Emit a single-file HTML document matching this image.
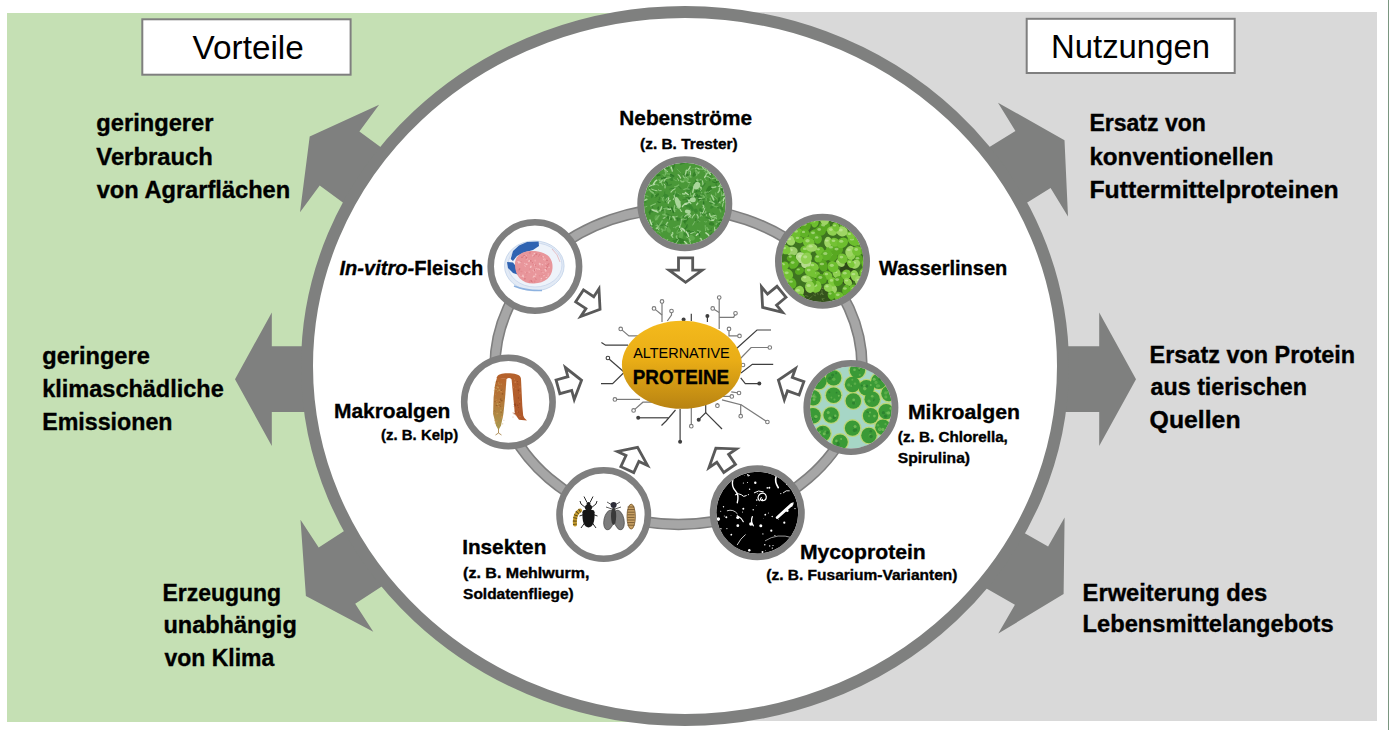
<!DOCTYPE html>
<html><head><meta charset="utf-8"><style>
html,body{margin:0;padding:0;background:#fff;width:1389px;height:730px;overflow:hidden}
svg{display:block}
text{font-family:"Liberation Sans",sans-serif;fill:#000}
text[font-weight="bold"]{stroke:#000;stroke-width:0.35px}
</style></head><body>
<svg width="1389" height="730" viewBox="0 0 1389 730">
<defs><clipPath id="c_neben"><circle cx="684.8" cy="203.7" r="41"/></clipPath><clipPath id="c_invitro"><circle cx="534.9" cy="266.5" r="41"/></clipPath><clipPath id="c_wasser"><circle cx="822.5" cy="261.2" r="41"/></clipPath><clipPath id="c_makro"><circle cx="508.4" cy="401.9" r="41"/></clipPath><clipPath id="c_mikro"><circle cx="850.9" cy="407.5" r="41"/></clipPath><clipPath id="c_insekt"><circle cx="603.7" cy="514.5" r="41"/></clipPath><clipPath id="c_myco"><circle cx="757.3" cy="512.7" r="41"/></clipPath><linearGradient id="gold" x1="0" y1="0" x2="0" y2="1"><stop offset="0" stop-color="#F4BA1C"/><stop offset="0.45" stop-color="#E9AD16"/><stop offset="1" stop-color="#B88312"/></linearGradient></defs>
<rect x="7" y="13" width="690" height="709" fill="#C5E0B4"/>
<rect x="685" y="12" width="692" height="709" fill="#D9D9D9"/>
<rect x="1388" y="0" width="1" height="730" fill="#7A9680"/>
<polygon fill="#7F807F" points="309.7,136.6 379.1,104.7 359.4,131.5 488.3,226.2 448.6,280.2 319.7,185.5 300.0,212.3"/>
<polygon fill="#7F807F" points="235.0,379.2 271.8,312.4 271.8,346.3 431.8,346.3 431.8,412.1 271.8,412.1 271.8,446.0"/>
<polygon fill="#7F807F" points="305.9,595.9 300.5,519.7 318.7,547.6 452.8,460.4 489.3,516.6 355.2,603.8 373.3,631.7"/>
<polygon fill="#7F807F" points="1064.5,140.2 1068.0,216.5 1050.6,188.1 914.3,272.0 879.2,215.0 1015.4,131.1 998.0,102.7"/>
<polygon fill="#7F807F" points="1136.0,379.2 1099.2,446.0 1099.2,412.1 939.2,412.1 939.2,346.3 1099.2,346.3 1099.2,312.4"/>
<polygon fill="#7F807F" points="1063.6,594.0 998.3,633.6 1014.9,604.7 875.9,525.3 909.2,467.2 1048.1,546.6 1064.6,517.6"/>
<ellipse cx="685" cy="366" rx="378" ry="354" fill="#FFFFFF" stroke="#7F807F" stroke-width="12"/>
<rect x="142.3" y="19.3" width="208.3" height="55.4" fill="#FFFFFF" stroke="#7F7F7F" stroke-width="2"/>
<rect x="1026.7" y="18.8" width="208" height="54.2" fill="#FFFFFF" stroke="#7F7F7F" stroke-width="2"/>
<ellipse cx="678.5" cy="366.5" rx="183.5" ry="158" fill="none" stroke="#7F7F7F" stroke-width="11.5"/>
<ellipse cx="678.5" cy="366.5" rx="183.5" ry="158" fill="none" stroke="#A6A6A6" stroke-width="8.3"/>
<path transform="translate(685.6,256.4) rotate(90.0)" d="M1.4,-7.1 L13.7,-7.1 L13.7,-16.6 L25.9,0 L13.7,16.6 L13.7,7.1 L1.4,7.1 Z" fill="#FFFFFF" stroke="#595959" stroke-width="2.8" stroke-linejoin="miter"/>
<path transform="translate(578.4,295.1) rotate(33.3)" d="M1.4,-7.1 L13.7,-7.1 L13.7,-16.6 L25.9,0 L13.7,16.6 L13.7,7.1 L1.4,7.1 Z" fill="#FFFFFF" stroke="#595959" stroke-width="2.8" stroke-linejoin="miter"/>
<path transform="translate(782.6,290.9) rotate(140.5)" d="M1.4,-7.1 L13.7,-7.1 L13.7,-16.6 L25.9,0 L13.7,16.6 L13.7,7.1 L1.4,7.1 Z" fill="#FFFFFF" stroke="#595959" stroke-width="2.8" stroke-linejoin="miter"/>
<path transform="translate(556.6,387.2) rotate(-15.5)" d="M1.4,-7.1 L13.7,-7.1 L13.7,-16.6 L25.9,0 L13.7,16.6 L13.7,7.1 L1.4,7.1 Z" fill="#FFFFFF" stroke="#595959" stroke-width="2.8" stroke-linejoin="miter"/>
<path transform="translate(802.8,388.8) rotate(199.6)" d="M1.4,-7.1 L13.7,-7.1 L13.7,-16.6 L25.9,0 L13.7,16.6 L13.7,7.1 L1.4,7.1 Z" fill="#FFFFFF" stroke="#595959" stroke-width="2.8" stroke-linejoin="miter"/>
<path transform="translate(626.7,470.9) rotate(-65.2)" d="M1.4,-7.1 L13.7,-7.1 L13.7,-16.6 L25.9,0 L13.7,16.6 L13.7,7.1 L1.4,7.1 Z" fill="#FFFFFF" stroke="#595959" stroke-width="2.8" stroke-linejoin="miter"/>
<path transform="translate(730.4,469.6) rotate(235.8)" d="M1.4,-7.1 L13.7,-7.1 L13.7,-16.6 L25.9,0 L13.7,16.6 L13.7,7.1 L1.4,7.1 Z" fill="#FFFFFF" stroke="#595959" stroke-width="2.8" stroke-linejoin="miter"/>
<circle cx="684.8" cy="203.7" r="44.2" fill="#FFFFFF"/>
<g clip-path="url(#c_neben)"><rect x="639.8" y="158.7" width="90" height="90" fill="#4A9838"/><ellipse cx="670.0" cy="174.4" rx="4.0" ry="1.1" fill="#5FAA4C" transform="rotate(24 670.0 174.4)"/><ellipse cx="673.5" cy="166.6" rx="3.5" ry="1.1" fill="#358229" transform="rotate(107 673.5 166.6)"/><ellipse cx="648.7" cy="169.3" rx="3.3" ry="2.2" fill="#3A8A30" transform="rotate(57 648.7 169.3)"/><ellipse cx="695.8" cy="210.7" rx="2.2" ry="1.9" fill="#3A8A30" transform="rotate(56 695.8 210.7)"/><ellipse cx="646.7" cy="233.8" rx="2.9" ry="1.2" fill="#3A8A30" transform="rotate(146 646.7 233.8)"/><ellipse cx="668.7" cy="230.3" rx="2.5" ry="1.9" fill="#5FAA4C" transform="rotate(48 668.7 230.3)"/><ellipse cx="674.1" cy="207.7" rx="2.2" ry="1.1" fill="#3A8A30" transform="rotate(127 674.1 207.7)"/><ellipse cx="700.0" cy="197.6" rx="2.9" ry="1.9" fill="#358229" transform="rotate(92 700.0 197.6)"/><ellipse cx="668.0" cy="228.4" rx="4.1" ry="1.4" fill="#5FAA4C" transform="rotate(76 668.0 228.4)"/><ellipse cx="686.9" cy="235.2" rx="4.2" ry="1.4" fill="#3A8A30" transform="rotate(30 686.9 235.2)"/><ellipse cx="685.8" cy="175.6" rx="3.0" ry="2.4" fill="#358229" transform="rotate(10 685.8 175.6)"/><ellipse cx="723.6" cy="168.2" rx="3.7" ry="2.2" fill="#358229" transform="rotate(87 723.6 168.2)"/><ellipse cx="701.2" cy="211.6" rx="3.7" ry="1.7" fill="#3A8A30" transform="rotate(69 701.2 211.6)"/><ellipse cx="682.6" cy="217.5" rx="2.2" ry="2.1" fill="#5FAA4C" transform="rotate(147 682.6 217.5)"/><ellipse cx="726.2" cy="230.7" rx="2.9" ry="1.6" fill="#5FAA4C" transform="rotate(88 726.2 230.7)"/><ellipse cx="644.7" cy="200.5" rx="2.5" ry="1.2" fill="#3A8A30" transform="rotate(55 644.7 200.5)"/><ellipse cx="707.3" cy="172.6" rx="2.7" ry="1.6" fill="#358229" transform="rotate(20 707.3 172.6)"/><ellipse cx="656.8" cy="195.4" rx="2.8" ry="1.2" fill="#358229" transform="rotate(140 656.8 195.4)"/><ellipse cx="666.2" cy="196.6" rx="3.1" ry="2.3" fill="#3A8A30" transform="rotate(38 666.2 196.6)"/><ellipse cx="649.8" cy="174.4" rx="4.0" ry="1.0" fill="#5FAA4C" transform="rotate(46 649.8 174.4)"/><ellipse cx="664.9" cy="162.0" rx="3.3" ry="1.6" fill="#5FAA4C" transform="rotate(81 664.9 162.0)"/><ellipse cx="722.9" cy="219.7" rx="3.5" ry="1.9" fill="#5FAA4C" transform="rotate(13 722.9 219.7)"/><ellipse cx="681.2" cy="234.9" rx="4.9" ry="2.0" fill="#5FAA4C" transform="rotate(100 681.2 234.9)"/><ellipse cx="676.2" cy="194.8" rx="3.4" ry="1.6" fill="#3A8A30" transform="rotate(17 676.2 194.8)"/><ellipse cx="725.5" cy="198.7" rx="2.3" ry="1.9" fill="#3A8A30" transform="rotate(0 725.5 198.7)"/><ellipse cx="690.4" cy="206.8" rx="4.8" ry="1.9" fill="#3A8A30" transform="rotate(53 690.4 206.8)"/><ellipse cx="694.4" cy="174.2" rx="2.8" ry="1.5" fill="#358229" transform="rotate(121 694.4 174.2)"/><ellipse cx="653.1" cy="233.0" rx="5.0" ry="1.7" fill="#358229" transform="rotate(79 653.1 233.0)"/><ellipse cx="650.0" cy="170.3" rx="3.0" ry="1.4" fill="#5FAA4C" transform="rotate(41 650.0 170.3)"/><ellipse cx="686.2" cy="178.9" rx="4.9" ry="1.5" fill="#5FAA4C" transform="rotate(139 686.2 178.9)"/><ellipse cx="719.6" cy="225.4" rx="2.9" ry="2.0" fill="#3A8A30" transform="rotate(178 719.6 225.4)"/><ellipse cx="713.8" cy="205.2" rx="4.7" ry="1.5" fill="#3A8A30" transform="rotate(136 713.8 205.2)"/><ellipse cx="688.3" cy="203.9" rx="3.9" ry="1.9" fill="#3A8A30" transform="rotate(61 688.3 203.9)"/><ellipse cx="711.5" cy="223.8" rx="2.7" ry="1.8" fill="#358229" transform="rotate(7 711.5 223.8)"/><ellipse cx="725.9" cy="228.1" rx="3.4" ry="1.3" fill="#5FAA4C" transform="rotate(88 725.9 228.1)"/><ellipse cx="680.4" cy="240.4" rx="5.0" ry="2.4" fill="#358229" transform="rotate(20 680.4 240.4)"/><ellipse cx="661.3" cy="180.8" rx="2.6" ry="1.3" fill="#5FAA4C" transform="rotate(156 661.3 180.8)"/><ellipse cx="713.4" cy="202.0" rx="4.0" ry="2.2" fill="#3A8A30" transform="rotate(169 713.4 202.0)"/><ellipse cx="652.9" cy="194.3" rx="4.1" ry="1.3" fill="#3A8A30" transform="rotate(111 652.9 194.3)"/><ellipse cx="709.1" cy="189.6" rx="4.4" ry="2.5" fill="#358229" transform="rotate(118 709.1 189.6)"/><ellipse cx="676.5" cy="241.2" rx="4.2" ry="1.3" fill="#3A8A30" transform="rotate(7 676.5 241.2)"/><ellipse cx="655.5" cy="237.7" rx="4.4" ry="1.2" fill="#5FAA4C" transform="rotate(121 655.5 237.7)"/><ellipse cx="698.0" cy="191.1" rx="3.6" ry="1.2" fill="#3A8A30" transform="rotate(166 698.0 191.1)"/><ellipse cx="651.4" cy="224.7" rx="2.4" ry="2.5" fill="#3A8A30" transform="rotate(54 651.4 224.7)"/><ellipse cx="645.2" cy="179.6" rx="3.5" ry="2.1" fill="#358229" transform="rotate(66 645.2 179.6)"/><ellipse cx="688.5" cy="231.8" rx="2.2" ry="2.1" fill="#358229" transform="rotate(169 688.5 231.8)"/><ellipse cx="691.8" cy="237.7" rx="3.3" ry="2.4" fill="#5FAA4C" transform="rotate(33 691.8 237.7)"/><ellipse cx="687.5" cy="205.7" rx="2.1" ry="1.7" fill="#3A8A30" transform="rotate(155 687.5 205.7)"/><ellipse cx="643.1" cy="228.8" rx="2.5" ry="1.7" fill="#5FAA4C" transform="rotate(30 643.1 228.8)"/><ellipse cx="689.5" cy="189.1" rx="3.6" ry="1.8" fill="#3A8A30" transform="rotate(143 689.5 189.1)"/><ellipse cx="647.6" cy="177.8" rx="2.1" ry="1.1" fill="#358229" transform="rotate(143 647.6 177.8)"/><ellipse cx="645.1" cy="236.8" rx="2.2" ry="1.5" fill="#5FAA4C" transform="rotate(155 645.1 236.8)"/><ellipse cx="685.8" cy="219.9" rx="3.4" ry="1.8" fill="#358229" transform="rotate(129 685.8 219.9)"/><ellipse cx="721.9" cy="220.4" rx="4.6" ry="2.4" fill="#358229" transform="rotate(143 721.9 220.4)"/><ellipse cx="717.8" cy="178.7" rx="3.3" ry="1.6" fill="#358229" transform="rotate(113 717.8 178.7)"/><ellipse cx="669.3" cy="218.1" rx="3.3" ry="1.3" fill="#358229" transform="rotate(31 669.3 218.1)"/><ellipse cx="718.2" cy="174.7" rx="4.1" ry="2.0" fill="#3A8A30" transform="rotate(64 718.2 174.7)"/><ellipse cx="717.0" cy="243.0" rx="2.7" ry="2.4" fill="#358229" transform="rotate(124 717.0 243.0)"/><ellipse cx="656.5" cy="217.8" rx="2.7" ry="2.1" fill="#5FAA4C" transform="rotate(103 656.5 217.8)"/><ellipse cx="671.3" cy="178.1" rx="3.0" ry="2.1" fill="#3A8A30" transform="rotate(86 671.3 178.1)"/><path d="M689.3,198.7 Q691.0,197.5 692.7,198.9" stroke="#3A8630" stroke-width="1.6" fill="none" stroke-linecap="round"/><path d="M709.0,243.3 Q711.7,242.9 711.9,244.3" stroke="#86C474" stroke-width="1.4" fill="none" stroke-linecap="round"/><path d="M711.7,233.1 Q709.1,236.8 708.6,238.0" stroke="#2F7A28" stroke-width="1.2" fill="none" stroke-linecap="round"/><path d="M701.6,169.2 Q705.2,168.9 706.3,170.1" stroke="#2F7A28" stroke-width="0.6" fill="none" stroke-linecap="round"/><path d="M650.2,183.6 Q650.8,184.8 649.3,186.3" stroke="#3A8630" stroke-width="0.9" fill="none" stroke-linecap="round"/><path d="M689.3,239.5 Q691.4,241.9 690.9,241.4" stroke="#B8DDAA" stroke-width="0.9" fill="none" stroke-linecap="round"/><path d="M658.0,240.0 Q656.6,241.9 656.4,243.8" stroke="#B8DDAA" stroke-width="0.8" fill="none" stroke-linecap="round"/><path d="M671.9,163.2 Q672.7,163.2 673.4,164.7" stroke="#B8DDAA" stroke-width="1.0" fill="none" stroke-linecap="round"/><path d="M698.1,216.3 Q698.5,217.6 696.1,220.0" stroke="#2F7A28" stroke-width="0.8" fill="none" stroke-linecap="round"/><path d="M662.1,178.4 Q659.5,178.8 657.5,180.2" stroke="#74B863" stroke-width="0.7" fill="none" stroke-linecap="round"/><path d="M653.7,167.6 Q651.3,169.2 651.6,169.8" stroke="#74B863" stroke-width="1.0" fill="none" stroke-linecap="round"/><path d="M685.3,243.3 Q684.4,244.5 683.8,247.8" stroke="#86C474" stroke-width="1.0" fill="none" stroke-linecap="round"/><path d="M664.9,242.5 Q661.4,243.8 660.7,242.8" stroke="#B8DDAA" stroke-width="0.8" fill="none" stroke-linecap="round"/><path d="M658.2,189.9 Q658.9,191.1 661.2,190.7" stroke="#B8DDAA" stroke-width="0.7" fill="none" stroke-linecap="round"/><path d="M711.4,173.8 Q710.4,174.7 710.5,177.2" stroke="#3A8630" stroke-width="1.2" fill="none" stroke-linecap="round"/><path d="M687.3,224.7 Q686.9,227.5 684.9,229.0" stroke="#2F7A28" stroke-width="1.1" fill="none" stroke-linecap="round"/><path d="M666.7,213.7 Q669.8,215.8 671.4,216.0" stroke="#2F7A28" stroke-width="0.7" fill="none" stroke-linecap="round"/><path d="M686.8,204.1 Q683.3,204.0 682.3,206.7" stroke="#B8DDAA" stroke-width="1.2" fill="none" stroke-linecap="round"/><path d="M723.4,193.3 Q723.9,195.0 723.7,195.5" stroke="#86C474" stroke-width="1.1" fill="none" stroke-linecap="round"/><path d="M643.1,228.7 Q642.1,228.8 640.3,231.6" stroke="#9FD28F" stroke-width="1.3" fill="none" stroke-linecap="round"/><path d="M664.0,168.0 Q664.8,170.2 667.3,171.6" stroke="#B8DDAA" stroke-width="1.1" fill="none" stroke-linecap="round"/><path d="M713.8,168.1 Q712.7,169.0 710.8,169.0" stroke="#86C474" stroke-width="0.7" fill="none" stroke-linecap="round"/><path d="M655.2,183.0 Q652.6,182.9 653.0,185.4" stroke="#74B863" stroke-width="0.9" fill="none" stroke-linecap="round"/><path d="M699.2,219.8 Q698.3,221.1 697.6,222.5" stroke="#3A8630" stroke-width="0.7" fill="none" stroke-linecap="round"/><path d="M717.9,178.4 Q714.4,177.4 712.1,178.8" stroke="#86C474" stroke-width="1.1" fill="none" stroke-linecap="round"/><path d="M726.3,245.2 Q726.1,246.6 728.3,250.5" stroke="#B8DDAA" stroke-width="1.3" fill="none" stroke-linecap="round"/><path d="M664.8,191.9 Q665.2,194.7 663.3,196.2" stroke="#3A8630" stroke-width="0.8" fill="none" stroke-linecap="round"/><path d="M718.2,202.5 Q719.8,202.3 720.2,202.7" stroke="#A5D596" stroke-width="1.3" fill="none" stroke-linecap="round"/><path d="M677.8,193.3 Q680.1,194.9 680.8,194.5" stroke="#6CB25A" stroke-width="0.7" fill="none" stroke-linecap="round"/><path d="M720.6,221.6 Q717.8,221.7 717.6,222.6" stroke="#6CB25A" stroke-width="1.5" fill="none" stroke-linecap="round"/><path d="M649.2,239.4 Q646.1,242.3 645.3,243.2" stroke="#3A8630" stroke-width="0.9" fill="none" stroke-linecap="round"/><path d="M721.4,182.6 Q723.6,185.0 724.1,185.6" stroke="#B8DDAA" stroke-width="1.0" fill="none" stroke-linecap="round"/><path d="M645.2,225.7 Q646.7,226.9 646.9,230.9" stroke="#B8DDAA" stroke-width="1.3" fill="none" stroke-linecap="round"/><path d="M680.7,224.9 Q681.2,226.5 679.3,227.8" stroke="#86C474" stroke-width="0.8" fill="none" stroke-linecap="round"/><path d="M677.6,185.4 Q679.1,186.4 681.1,188.9" stroke="#3A8630" stroke-width="1.1" fill="none" stroke-linecap="round"/><path d="M699.0,171.8 Q698.6,172.7 698.0,173.8" stroke="#A5D596" stroke-width="0.9" fill="none" stroke-linecap="round"/><path d="M706.6,197.6 Q705.9,197.8 706.1,200.5" stroke="#74B863" stroke-width="0.8" fill="none" stroke-linecap="round"/><path d="M664.5,209.5 Q661.8,211.2 659.8,211.3" stroke="#2F7A28" stroke-width="0.8" fill="none" stroke-linecap="round"/><path d="M665.5,224.9 Q664.4,227.0 665.5,229.2" stroke="#6CB25A" stroke-width="1.2" fill="none" stroke-linecap="round"/><path d="M715.3,179.8 Q716.7,180.8 717.3,182.1" stroke="#2F7A28" stroke-width="0.9" fill="none" stroke-linecap="round"/><path d="M711.2,243.0 Q714.3,243.7 714.6,244.5" stroke="#A5D596" stroke-width="0.7" fill="none" stroke-linecap="round"/><path d="M720.9,239.7 Q720.0,240.4 720.6,243.5" stroke="#A5D596" stroke-width="0.8" fill="none" stroke-linecap="round"/><path d="M686.7,219.0 Q683.0,220.3 681.9,219.9" stroke="#A5D596" stroke-width="0.6" fill="none" stroke-linecap="round"/><path d="M653.4,209.5 Q656.1,209.9 658.2,210.1" stroke="#74B863" stroke-width="1.0" fill="none" stroke-linecap="round"/><path d="M707.0,170.1 Q708.3,171.6 710.4,174.7" stroke="#B8DDAA" stroke-width="1.2" fill="none" stroke-linecap="round"/><path d="M643.7,187.0 Q644.0,189.1 644.4,192.8" stroke="#B8DDAA" stroke-width="0.8" fill="none" stroke-linecap="round"/><path d="M723.5,220.9 Q725.2,222.2 724.7,222.6" stroke="#A5D596" stroke-width="0.7" fill="none" stroke-linecap="round"/><path d="M661.9,197.3 Q663.4,198.8 663.5,201.0" stroke="#6CB25A" stroke-width="1.0" fill="none" stroke-linecap="round"/><path d="M643.4,186.2 Q643.8,186.2 641.4,187.3" stroke="#A5D596" stroke-width="1.4" fill="none" stroke-linecap="round"/><path d="M662.2,180.3 Q661.4,182.6 659.9,182.5" stroke="#A5D596" stroke-width="1.1" fill="none" stroke-linecap="round"/><path d="M719.3,166.4 Q717.6,170.6 717.6,171.9" stroke="#86C474" stroke-width="0.7" fill="none" stroke-linecap="round"/><path d="M647.2,166.8 Q648.8,170.9 649.0,172.0" stroke="#6CB25A" stroke-width="1.5" fill="none" stroke-linecap="round"/><path d="M670.5,177.3 Q667.4,178.5 665.6,178.3" stroke="#86C474" stroke-width="1.4" fill="none" stroke-linecap="round"/><path d="M725.5,198.9 Q726.2,200.6 727.7,199.6" stroke="#9FD28F" stroke-width="0.7" fill="none" stroke-linecap="round"/><path d="M723.8,179.1 Q723.7,182.1 726.1,183.9" stroke="#2F7A28" stroke-width="0.8" fill="none" stroke-linecap="round"/><path d="M688.3,199.2 Q688.2,201.0 690.9,203.4" stroke="#A5D596" stroke-width="1.4" fill="none" stroke-linecap="round"/><path d="M707.2,165.1 Q707.6,166.0 709.4,165.4" stroke="#86C474" stroke-width="1.5" fill="none" stroke-linecap="round"/><path d="M671.3,184.6 Q669.8,185.4 666.9,185.2" stroke="#3A8630" stroke-width="1.5" fill="none" stroke-linecap="round"/><path d="M667.8,222.3 Q665.6,224.0 666.2,227.3" stroke="#9FD28F" stroke-width="1.1" fill="none" stroke-linecap="round"/><path d="M723.2,241.8 Q724.6,242.1 724.2,244.6" stroke="#2F7A28" stroke-width="1.1" fill="none" stroke-linecap="round"/><path d="M643.5,239.9 Q645.2,241.3 646.3,243.8" stroke="#74B863" stroke-width="0.9" fill="none" stroke-linecap="round"/><path d="M673.2,227.4 Q673.8,226.4 675.9,228.1" stroke="#74B863" stroke-width="0.6" fill="none" stroke-linecap="round"/><path d="M689.2,189.1 Q685.8,188.0 683.7,189.4" stroke="#9FD28F" stroke-width="0.7" fill="none" stroke-linecap="round"/><path d="M684.7,221.3 Q684.8,223.9 685.2,224.2" stroke="#2F7A28" stroke-width="0.8" fill="none" stroke-linecap="round"/><path d="M688.0,226.7 Q685.6,228.7 684.3,230.2" stroke="#3A8630" stroke-width="1.0" fill="none" stroke-linecap="round"/><path d="M704.8,178.4 Q705.2,180.7 706.9,180.5" stroke="#74B863" stroke-width="0.8" fill="none" stroke-linecap="round"/><path d="M648.2,182.8 Q650.2,185.7 651.2,185.7" stroke="#9FD28F" stroke-width="0.7" fill="none" stroke-linecap="round"/><path d="M682.7,230.5 Q681.3,231.1 677.7,233.2" stroke="#86C474" stroke-width="0.7" fill="none" stroke-linecap="round"/><path d="M693.2,231.2 Q694.0,231.2 695.1,232.6" stroke="#74B863" stroke-width="1.4" fill="none" stroke-linecap="round"/><path d="M722.2,170.6 Q720.2,172.2 720.9,174.9" stroke="#B8DDAA" stroke-width="0.6" fill="none" stroke-linecap="round"/><path d="M726.8,164.9 Q725.9,166.7 723.0,169.1" stroke="#86C474" stroke-width="1.0" fill="none" stroke-linecap="round"/><path d="M695.0,168.2 Q695.6,167.2 698.9,168.6" stroke="#A5D596" stroke-width="1.0" fill="none" stroke-linecap="round"/><path d="M689.0,215.4 Q690.0,215.1 691.6,216.1" stroke="#3A8630" stroke-width="0.9" fill="none" stroke-linecap="round"/><path d="M722.9,187.9 Q721.1,190.4 722.2,191.3" stroke="#2F7A28" stroke-width="1.4" fill="none" stroke-linecap="round"/><path d="M696.9,194.5 Q699.0,197.0 698.6,200.0" stroke="#2F7A28" stroke-width="1.4" fill="none" stroke-linecap="round"/><path d="M676.9,235.9 Q675.7,236.1 677.2,238.5" stroke="#86C474" stroke-width="1.4" fill="none" stroke-linecap="round"/><path d="M676.1,209.8 Q672.7,209.7 671.3,210.9" stroke="#74B863" stroke-width="1.1" fill="none" stroke-linecap="round"/><path d="M720.5,170.8 Q720.0,174.5 720.7,176.1" stroke="#B8DDAA" stroke-width="0.6" fill="none" stroke-linecap="round"/><path d="M719.5,188.1 Q719.9,190.6 718.0,192.4" stroke="#9FD28F" stroke-width="1.4" fill="none" stroke-linecap="round"/><path d="M656.3,227.7 Q658.6,227.9 659.0,230.0" stroke="#B8DDAA" stroke-width="0.8" fill="none" stroke-linecap="round"/><path d="M676.4,205.2 Q678.2,207.3 677.3,207.5" stroke="#B8DDAA" stroke-width="0.8" fill="none" stroke-linecap="round"/><path d="M717.0,232.5 Q714.7,234.8 714.6,236.5" stroke="#6CB25A" stroke-width="1.2" fill="none" stroke-linecap="round"/><path d="M695.5,187.4 Q695.7,189.1 696.5,191.6" stroke="#2F7A28" stroke-width="1.1" fill="none" stroke-linecap="round"/><path d="M657.8,162.0 Q656.7,162.9 654.0,162.2" stroke="#A5D596" stroke-width="1.1" fill="none" stroke-linecap="round"/><path d="M657.9,201.5 Q658.7,202.8 660.3,202.3" stroke="#2F7A28" stroke-width="1.1" fill="none" stroke-linecap="round"/><path d="M698.0,165.1 Q701.4,166.3 703.2,167.4" stroke="#6CB25A" stroke-width="0.7" fill="none" stroke-linecap="round"/><path d="M685.1,193.4 Q685.4,194.3 682.6,193.8" stroke="#9FD28F" stroke-width="1.4" fill="none" stroke-linecap="round"/><path d="M659.1,244.2 Q659.7,247.7 659.2,250.0" stroke="#74B863" stroke-width="0.8" fill="none" stroke-linecap="round"/><path d="M712.8,213.0 Q715.1,214.0 715.1,215.3" stroke="#3A8630" stroke-width="0.9" fill="none" stroke-linecap="round"/><path d="M723.8,202.0 Q722.6,202.8 722.5,206.3" stroke="#B8DDAA" stroke-width="0.8" fill="none" stroke-linecap="round"/><path d="M656.3,240.4 Q655.7,242.0 653.4,245.1" stroke="#74B863" stroke-width="1.4" fill="none" stroke-linecap="round"/><path d="M646.9,233.8 Q644.2,234.1 643.1,234.2" stroke="#9FD28F" stroke-width="1.5" fill="none" stroke-linecap="round"/><path d="M704.8,192.9 Q705.0,195.3 706.1,196.1" stroke="#74B863" stroke-width="1.0" fill="none" stroke-linecap="round"/><path d="M657.6,224.2 Q659.7,226.0 662.9,225.0" stroke="#3A8630" stroke-width="1.5" fill="none" stroke-linecap="round"/><path d="M720.8,236.9 Q718.1,239.1 717.5,240.7" stroke="#B8DDAA" stroke-width="1.0" fill="none" stroke-linecap="round"/><path d="M685.9,236.9 Q685.8,236.0 688.5,238.1" stroke="#86C474" stroke-width="1.0" fill="none" stroke-linecap="round"/><path d="M651.7,191.7 Q652.5,193.5 655.0,194.5" stroke="#74B863" stroke-width="1.1" fill="none" stroke-linecap="round"/><path d="M654.1,240.4 Q653.7,240.2 656.0,242.2" stroke="#9FD28F" stroke-width="1.3" fill="none" stroke-linecap="round"/><path d="M665.5,229.9 Q664.6,230.2 663.2,230.1" stroke="#6CB25A" stroke-width="1.2" fill="none" stroke-linecap="round"/><path d="M686.3,203.1 Q687.2,203.3 688.0,204.1" stroke="#86C474" stroke-width="0.8" fill="none" stroke-linecap="round"/><path d="M647.7,227.1 Q648.7,226.3 651.9,227.3" stroke="#B8DDAA" stroke-width="1.2" fill="none" stroke-linecap="round"/><path d="M685.4,215.6 Q683.0,216.7 683.1,217.1" stroke="#3A8630" stroke-width="1.6" fill="none" stroke-linecap="round"/><path d="M703.6,201.8 Q704.2,203.5 703.2,205.3" stroke="#2F7A28" stroke-width="1.3" fill="none" stroke-linecap="round"/><path d="M680.8,180.7 Q681.1,182.3 683.6,181.6" stroke="#86C474" stroke-width="1.5" fill="none" stroke-linecap="round"/><path d="M722.0,183.8 Q724.8,185.4 726.5,184.6" stroke="#2F7A28" stroke-width="1.6" fill="none" stroke-linecap="round"/><path d="M667.6,239.7 Q665.5,241.3 665.4,240.5" stroke="#86C474" stroke-width="1.4" fill="none" stroke-linecap="round"/><path d="M659.8,175.1 Q658.0,174.7 657.2,175.8" stroke="#2F7A28" stroke-width="1.5" fill="none" stroke-linecap="round"/><path d="M695.8,219.9 Q694.2,222.6 692.8,225.0" stroke="#A5D596" stroke-width="0.6" fill="none" stroke-linecap="round"/><path d="M645.0,242.0 Q646.8,244.1 649.1,245.7" stroke="#B8DDAA" stroke-width="1.2" fill="none" stroke-linecap="round"/><path d="M657.2,164.5 Q658.9,164.2 661.4,166.0" stroke="#74B863" stroke-width="0.6" fill="none" stroke-linecap="round"/><path d="M646.3,219.9 Q644.0,222.3 644.3,224.3" stroke="#86C474" stroke-width="1.0" fill="none" stroke-linecap="round"/><path d="M711.5,230.5 Q709.2,230.0 709.3,231.3" stroke="#2F7A28" stroke-width="0.7" fill="none" stroke-linecap="round"/><path d="M645.7,232.9 Q643.7,233.1 641.9,235.4" stroke="#3A8630" stroke-width="1.4" fill="none" stroke-linecap="round"/><path d="M697.1,186.4 Q697.1,187.1 698.6,189.1" stroke="#6CB25A" stroke-width="1.3" fill="none" stroke-linecap="round"/><path d="M673.7,188.6 Q672.1,187.5 669.7,189.1" stroke="#3A8630" stroke-width="1.0" fill="none" stroke-linecap="round"/><path d="M679.5,226.6 Q681.2,229.8 681.7,230.9" stroke="#B8DDAA" stroke-width="1.2" fill="none" stroke-linecap="round"/><path d="M666.9,198.3 Q665.3,199.9 666.7,201.5" stroke="#86C474" stroke-width="1.1" fill="none" stroke-linecap="round"/><path d="M709.7,177.2 Q710.0,177.9 709.8,180.6" stroke="#3A8630" stroke-width="1.4" fill="none" stroke-linecap="round"/><path d="M721.6,181.1 Q724.1,184.1 726.6,184.0" stroke="#9FD28F" stroke-width="1.2" fill="none" stroke-linecap="round"/><path d="M651.6,189.1 Q654.1,190.4 657.0,190.8" stroke="#9FD28F" stroke-width="1.0" fill="none" stroke-linecap="round"/><path d="M668.3,197.7 Q669.4,197.9 667.9,200.3" stroke="#B8DDAA" stroke-width="1.2" fill="none" stroke-linecap="round"/><path d="M700.7,212.5 Q704.0,212.6 705.0,213.0" stroke="#74B863" stroke-width="1.2" fill="none" stroke-linecap="round"/><path d="M670.0,200.6 Q668.0,201.7 668.3,203.1" stroke="#B8DDAA" stroke-width="1.5" fill="none" stroke-linecap="round"/><path d="M662.8,177.8 Q664.9,181.2 665.6,181.7" stroke="#74B863" stroke-width="1.3" fill="none" stroke-linecap="round"/><path d="M693.4,191.0 Q697.0,193.6 697.7,194.9" stroke="#3A8630" stroke-width="0.7" fill="none" stroke-linecap="round"/><path d="M723.6,170.2 Q725.4,172.8 725.8,175.8" stroke="#3A8630" stroke-width="0.8" fill="none" stroke-linecap="round"/><path d="M696.4,170.7 Q696.3,172.8 699.2,172.8" stroke="#86C474" stroke-width="1.0" fill="none" stroke-linecap="round"/><path d="M661.5,244.1 Q662.4,244.6 662.7,245.8" stroke="#3A8630" stroke-width="1.3" fill="none" stroke-linecap="round"/><path d="M719.1,197.8 Q719.5,200.8 717.9,202.7" stroke="#2F7A28" stroke-width="1.3" fill="none" stroke-linecap="round"/><path d="M716.5,215.6 Q716.6,216.9 715.8,218.4" stroke="#74B863" stroke-width="0.9" fill="none" stroke-linecap="round"/><path d="M695.6,169.9 Q695.5,172.2 696.9,174.9" stroke="#74B863" stroke-width="1.1" fill="none" stroke-linecap="round"/><path d="M695.0,196.1 Q694.7,198.0 692.0,201.0" stroke="#74B863" stroke-width="0.6" fill="none" stroke-linecap="round"/><path d="M712.7,238.0 Q713.1,239.3 715.5,239.0" stroke="#B8DDAA" stroke-width="1.5" fill="none" stroke-linecap="round"/><path d="M686.4,170.2 Q686.0,172.6 685.4,174.2" stroke="#A5D596" stroke-width="1.4" fill="none" stroke-linecap="round"/><path d="M686.6,196.2 Q684.9,197.2 683.8,196.6" stroke="#74B863" stroke-width="0.7" fill="none" stroke-linecap="round"/><path d="M725.5,191.6 Q725.7,190.6 728.5,192.1" stroke="#2F7A28" stroke-width="1.5" fill="none" stroke-linecap="round"/><path d="M695.6,218.4 Q696.0,220.9 695.0,220.8" stroke="#3A8630" stroke-width="1.1" fill="none" stroke-linecap="round"/><path d="M661.2,229.0 Q663.0,229.1 662.1,231.7" stroke="#74B863" stroke-width="1.4" fill="none" stroke-linecap="round"/><path d="M659.0,215.6 Q656.9,218.1 655.7,219.7" stroke="#74B863" stroke-width="1.4" fill="none" stroke-linecap="round"/><path d="M711.4,201.0 Q713.5,202.6 713.9,204.4" stroke="#74B863" stroke-width="1.4" fill="none" stroke-linecap="round"/><path d="M662.2,220.9 Q660.5,224.2 658.9,225.8" stroke="#74B863" stroke-width="1.4" fill="none" stroke-linecap="round"/><path d="M672.9,216.7 Q674.4,217.9 675.0,220.0" stroke="#9FD28F" stroke-width="1.5" fill="none" stroke-linecap="round"/><path d="M714.6,166.5 Q712.3,167.5 709.8,169.4" stroke="#74B863" stroke-width="1.2" fill="none" stroke-linecap="round"/><path d="M698.0,179.3 Q699.8,180.7 701.1,180.0" stroke="#9FD28F" stroke-width="0.8" fill="none" stroke-linecap="round"/><path d="M680.8,227.6 Q682.5,229.3 683.6,229.8" stroke="#74B863" stroke-width="1.6" fill="none" stroke-linecap="round"/><path d="M650.4,237.4 Q649.1,240.3 649.7,241.9" stroke="#3A8630" stroke-width="1.1" fill="none" stroke-linecap="round"/><path d="M705.1,198.5 Q702.9,200.3 701.2,200.1" stroke="#3A8630" stroke-width="1.1" fill="none" stroke-linecap="round"/><path d="M689.6,202.4 Q687.3,203.2 685.0,203.8" stroke="#B8DDAA" stroke-width="1.5" fill="none" stroke-linecap="round"/><path d="M643.4,232.3 Q644.6,234.1 643.8,236.6" stroke="#3A8630" stroke-width="1.0" fill="none" stroke-linecap="round"/><path d="M723.5,168.0 Q721.1,168.7 721.6,172.2" stroke="#86C474" stroke-width="1.3" fill="none" stroke-linecap="round"/><path d="M726.7,229.6 Q727.2,230.8 730.5,230.8" stroke="#74B863" stroke-width="1.2" fill="none" stroke-linecap="round"/><path d="M671.2,234.1 Q671.4,235.4 672.8,237.6" stroke="#B8DDAA" stroke-width="0.9" fill="none" stroke-linecap="round"/><path d="M647.2,186.0 Q648.1,187.1 649.0,189.6" stroke="#6CB25A" stroke-width="1.1" fill="none" stroke-linecap="round"/><path d="M724.7,216.7 Q724.0,216.6 722.1,218.7" stroke="#6CB25A" stroke-width="1.6" fill="none" stroke-linecap="round"/><path d="M650.2,245.4 Q651.0,246.1 651.5,249.4" stroke="#2F7A28" stroke-width="0.9" fill="none" stroke-linecap="round"/><path d="M643.3,177.7 Q642.0,179.4 639.0,178.7" stroke="#86C474" stroke-width="1.2" fill="none" stroke-linecap="round"/><path d="M694.6,214.4 Q692.5,216.6 692.1,217.9" stroke="#9FD28F" stroke-width="1.1" fill="none" stroke-linecap="round"/><path d="M706.9,170.2 Q709.0,171.3 708.7,171.4" stroke="#9FD28F" stroke-width="1.0" fill="none" stroke-linecap="round"/><path d="M711.9,227.8 Q710.7,227.9 711.3,230.7" stroke="#3A8630" stroke-width="0.6" fill="none" stroke-linecap="round"/><path d="M690.4,210.3 Q689.4,211.6 686.5,211.3" stroke="#86C474" stroke-width="1.0" fill="none" stroke-linecap="round"/><path d="M701.2,195.7 Q703.5,195.9 705.9,196.7" stroke="#74B863" stroke-width="0.7" fill="none" stroke-linecap="round"/><path d="M696.9,179.5 Q696.4,180.5 698.8,180.5" stroke="#86C474" stroke-width="1.6" fill="none" stroke-linecap="round"/><path d="M714.9,180.0 Q717.4,180.0 718.5,181.5" stroke="#3A8630" stroke-width="1.3" fill="none" stroke-linecap="round"/><path d="M658.5,165.9 Q657.4,166.2 654.9,169.1" stroke="#74B863" stroke-width="1.2" fill="none" stroke-linecap="round"/><path d="M702.4,200.4 Q701.6,199.2 699.4,201.0" stroke="#86C474" stroke-width="0.6" fill="none" stroke-linecap="round"/><path d="M697.5,230.4 Q700.4,231.8 700.6,231.2" stroke="#74B863" stroke-width="1.2" fill="none" stroke-linecap="round"/><path d="M669.4,241.4 Q667.0,243.8 666.8,244.3" stroke="#74B863" stroke-width="1.0" fill="none" stroke-linecap="round"/><path d="M697.0,214.6 Q698.8,217.2 697.9,218.0" stroke="#A5D596" stroke-width="1.2" fill="none" stroke-linecap="round"/><path d="M667.4,166.8 Q666.1,167.7 662.6,167.2" stroke="#6CB25A" stroke-width="0.6" fill="none" stroke-linecap="round"/><path d="M655.5,231.6 Q654.3,235.0 653.9,237.3" stroke="#B8DDAA" stroke-width="1.2" fill="none" stroke-linecap="round"/><path d="M718.1,229.5 Q718.0,229.3 719.3,231.1" stroke="#3A8630" stroke-width="1.5" fill="none" stroke-linecap="round"/><path d="M706.9,227.5 Q707.0,229.5 708.5,229.5" stroke="#74B863" stroke-width="1.4" fill="none" stroke-linecap="round"/><path d="M700.3,238.5 Q701.7,238.6 701.4,240.5" stroke="#A5D596" stroke-width="1.4" fill="none" stroke-linecap="round"/><path d="M721.1,181.4 Q720.9,184.9 719.5,185.8" stroke="#A5D596" stroke-width="1.2" fill="none" stroke-linecap="round"/><path d="M643.6,194.0 Q644.1,195.3 643.1,198.1" stroke="#6CB25A" stroke-width="1.2" fill="none" stroke-linecap="round"/><path d="M718.1,236.0 Q717.1,237.1 717.9,239.9" stroke="#B8DDAA" stroke-width="0.8" fill="none" stroke-linecap="round"/><path d="M701.7,192.2 Q700.6,195.2 701.0,195.7" stroke="#74B863" stroke-width="1.1" fill="none" stroke-linecap="round"/><path d="M715.6,192.9 Q716.0,193.6 715.8,195.2" stroke="#6CB25A" stroke-width="1.1" fill="none" stroke-linecap="round"/><path d="M644.5,164.5 Q642.1,163.7 639.1,164.7" stroke="#A5D596" stroke-width="1.5" fill="none" stroke-linecap="round"/><path d="M666.3,169.9 Q665.9,170.6 667.0,174.2" stroke="#74B863" stroke-width="0.8" fill="none" stroke-linecap="round"/><path d="M658.0,168.7 Q660.0,170.1 662.2,169.4" stroke="#A5D596" stroke-width="1.5" fill="none" stroke-linecap="round"/><path d="M715.3,215.4 Q712.2,216.2 710.6,216.6" stroke="#9FD28F" stroke-width="1.2" fill="none" stroke-linecap="round"/><path d="M723.1,218.0 Q723.4,219.0 724.4,221.5" stroke="#74B863" stroke-width="1.3" fill="none" stroke-linecap="round"/><path d="M657.3,240.8 Q657.2,239.7 655.1,241.2" stroke="#86C474" stroke-width="1.4" fill="none" stroke-linecap="round"/><path d="M702.4,216.0 Q700.7,214.6 700.2,216.1" stroke="#74B863" stroke-width="0.8" fill="none" stroke-linecap="round"/><path d="M705.7,211.2 Q705.5,212.8 706.5,215.8" stroke="#A5D596" stroke-width="0.7" fill="none" stroke-linecap="round"/><path d="M683.2,175.9 Q684.1,178.0 685.1,177.6" stroke="#86C474" stroke-width="1.4" fill="none" stroke-linecap="round"/><path d="M656.0,231.7 Q659.3,231.1 660.3,232.7" stroke="#6CB25A" stroke-width="1.0" fill="none" stroke-linecap="round"/><path d="M650.9,239.7 Q650.4,240.3 647.0,241.9" stroke="#A5D596" stroke-width="0.8" fill="none" stroke-linecap="round"/><path d="M652.5,192.4 Q654.4,194.7 655.0,196.7" stroke="#74B863" stroke-width="0.7" fill="none" stroke-linecap="round"/><path d="M715.9,184.1 Q716.5,184.7 716.7,186.6" stroke="#3A8630" stroke-width="1.4" fill="none" stroke-linecap="round"/><path d="M664.7,170.9 Q666.4,171.5 665.2,174.8" stroke="#74B863" stroke-width="1.5" fill="none" stroke-linecap="round"/><path d="M698.9,179.4 Q699.8,182.4 699.2,182.6" stroke="#3A8630" stroke-width="1.0" fill="none" stroke-linecap="round"/><path d="M664.8,181.7 Q667.3,181.6 667.4,184.2" stroke="#2F7A28" stroke-width="1.3" fill="none" stroke-linecap="round"/><path d="M667.5,243.9 Q670.1,243.9 672.7,244.2" stroke="#6CB25A" stroke-width="1.4" fill="none" stroke-linecap="round"/><path d="M722.1,185.8 Q721.7,186.9 723.0,187.7" stroke="#2F7A28" stroke-width="0.7" fill="none" stroke-linecap="round"/><path d="M657.9,226.4 Q658.1,228.7 656.2,228.6" stroke="#9FD28F" stroke-width="1.3" fill="none" stroke-linecap="round"/><path d="M706.7,176.4 Q709.1,176.5 711.0,178.4" stroke="#B8DDAA" stroke-width="0.7" fill="none" stroke-linecap="round"/><path d="M704.3,196.0 Q703.1,197.9 702.9,197.7" stroke="#6CB25A" stroke-width="1.5" fill="none" stroke-linecap="round"/><path d="M684.2,163.0 Q681.6,163.7 680.5,164.1" stroke="#3A8630" stroke-width="1.6" fill="none" stroke-linecap="round"/><path d="M645.9,220.7 Q645.3,223.2 644.6,226.0" stroke="#6CB25A" stroke-width="1.1" fill="none" stroke-linecap="round"/><path d="M652.9,221.7 Q651.5,224.3 648.4,224.7" stroke="#6CB25A" stroke-width="1.2" fill="none" stroke-linecap="round"/><path d="M718.2,186.2 Q720.6,187.1 722.9,187.8" stroke="#A5D596" stroke-width="1.1" fill="none" stroke-linecap="round"/><path d="M644.5,243.0 Q645.0,244.0 646.6,244.7" stroke="#9FD28F" stroke-width="1.6" fill="none" stroke-linecap="round"/><path d="M644.4,239.5 Q643.5,241.2 642.4,241.7" stroke="#A5D596" stroke-width="0.7" fill="none" stroke-linecap="round"/><path d="M715.8,221.9 Q717.3,222.9 718.3,222.3" stroke="#A5D596" stroke-width="0.7" fill="none" stroke-linecap="round"/><path d="M653.0,236.0 Q651.8,237.7 652.6,238.9" stroke="#B8DDAA" stroke-width="1.3" fill="none" stroke-linecap="round"/><path d="M656.6,231.1 Q655.2,231.7 653.1,231.8" stroke="#2F7A28" stroke-width="0.6" fill="none" stroke-linecap="round"/><path d="M724.3,166.1 Q725.7,168.7 725.8,169.3" stroke="#6CB25A" stroke-width="1.2" fill="none" stroke-linecap="round"/><path d="M725.6,188.6 Q726.3,192.0 726.9,192.7" stroke="#6CB25A" stroke-width="1.5" fill="none" stroke-linecap="round"/><path d="M663.7,197.2 Q661.7,198.5 662.3,200.3" stroke="#74B863" stroke-width="1.1" fill="none" stroke-linecap="round"/><path d="M644.5,173.4 Q642.4,174.6 639.5,173.9" stroke="#A5D596" stroke-width="1.5" fill="none" stroke-linecap="round"/><path d="M717.1,164.6 Q716.8,166.9 715.8,167.4" stroke="#3A8630" stroke-width="0.6" fill="none" stroke-linecap="round"/><path d="M651.2,171.9 Q652.1,171.4 654.2,172.0" stroke="#86C474" stroke-width="1.2" fill="none" stroke-linecap="round"/><path d="M652.9,211.6 Q649.7,212.2 648.9,212.2" stroke="#3A8630" stroke-width="1.5" fill="none" stroke-linecap="round"/><path d="M679.8,204.7 Q676.4,206.4 674.5,206.7" stroke="#3A8630" stroke-width="1.3" fill="none" stroke-linecap="round"/><path d="M666.9,199.8 Q665.2,201.7 665.3,202.2" stroke="#2F7A28" stroke-width="1.1" fill="none" stroke-linecap="round"/><path d="M688.8,213.2 Q688.5,213.9 689.2,216.4" stroke="#B8DDAA" stroke-width="1.1" fill="none" stroke-linecap="round"/><path d="M724.2,195.0 Q722.4,194.8 721.7,195.6" stroke="#B8DDAA" stroke-width="0.9" fill="none" stroke-linecap="round"/><path d="M716.6,179.9 Q717.9,179.6 718.6,180.2" stroke="#9FD28F" stroke-width="1.3" fill="none" stroke-linecap="round"/><path d="M686.2,231.8 Q688.8,234.6 688.5,236.3" stroke="#B8DDAA" stroke-width="1.5" fill="none" stroke-linecap="round"/><path d="M677.8,217.8 Q680.0,218.5 680.3,219.0" stroke="#3A8630" stroke-width="1.3" fill="none" stroke-linecap="round"/><path d="M705.2,225.5 Q705.2,226.9 705.6,230.6" stroke="#74B863" stroke-width="1.0" fill="none" stroke-linecap="round"/><path d="M689.0,171.6 Q689.7,175.2 690.9,177.2" stroke="#74B863" stroke-width="1.5" fill="none" stroke-linecap="round"/><path d="M693.8,193.6 Q693.5,195.1 694.4,197.4" stroke="#6CB25A" stroke-width="1.2" fill="none" stroke-linecap="round"/><path d="M675.1,188.7 Q672.6,189.8 670.9,192.1" stroke="#A5D596" stroke-width="1.1" fill="none" stroke-linecap="round"/><path d="M710.2,198.3 Q710.3,200.7 711.4,201.0" stroke="#6CB25A" stroke-width="1.4" fill="none" stroke-linecap="round"/><path d="M723.3,178.9 Q722.6,180.9 724.6,184.4" stroke="#86C474" stroke-width="1.5" fill="none" stroke-linecap="round"/><path d="M668.0,206.8 Q669.3,208.7 670.5,210.5" stroke="#2F7A28" stroke-width="1.3" fill="none" stroke-linecap="round"/><path d="M675.5,191.7 Q675.5,193.5 674.5,195.0" stroke="#86C474" stroke-width="0.7" fill="none" stroke-linecap="round"/><path d="M674.3,195.4 Q675.2,197.4 673.4,199.6" stroke="#B8DDAA" stroke-width="1.0" fill="none" stroke-linecap="round"/><path d="M695.3,245.4 Q695.3,246.6 697.2,249.0" stroke="#9FD28F" stroke-width="1.6" fill="none" stroke-linecap="round"/><path d="M712.2,204.8 Q715.8,207.2 717.4,206.7" stroke="#6CB25A" stroke-width="1.5" fill="none" stroke-linecap="round"/><path d="M678.2,174.8 Q679.1,175.1 680.6,178.0" stroke="#B8DDAA" stroke-width="1.2" fill="none" stroke-linecap="round"/><path d="M651.8,209.6 Q649.3,210.3 649.8,214.0" stroke="#2F7A28" stroke-width="1.3" fill="none" stroke-linecap="round"/><path d="M689.2,238.7 Q690.1,239.0 690.0,241.0" stroke="#86C474" stroke-width="1.1" fill="none" stroke-linecap="round"/><path d="M689.3,184.0 Q688.6,185.6 687.4,187.7" stroke="#74B863" stroke-width="0.7" fill="none" stroke-linecap="round"/><path d="M656.0,225.5 Q658.4,225.9 658.2,226.3" stroke="#74B863" stroke-width="1.1" fill="none" stroke-linecap="round"/><path d="M679.0,228.9 Q676.8,230.3 676.8,233.1" stroke="#6CB25A" stroke-width="0.9" fill="none" stroke-linecap="round"/><path d="M645.6,214.5 Q642.5,215.6 640.3,217.0" stroke="#9FD28F" stroke-width="1.0" fill="none" stroke-linecap="round"/><path d="M647.4,236.5 Q645.3,238.5 645.9,242.1" stroke="#A5D596" stroke-width="0.8" fill="none" stroke-linecap="round"/><path d="M656.2,211.0 Q656.5,211.8 657.9,212.1" stroke="#A5D596" stroke-width="1.6" fill="none" stroke-linecap="round"/><path d="M684.4,241.5 Q685.5,242.4 687.0,243.9" stroke="#B8DDAA" stroke-width="1.3" fill="none" stroke-linecap="round"/><path d="M644.7,234.6 Q645.0,236.4 647.3,235.4" stroke="#2F7A28" stroke-width="0.9" fill="none" stroke-linecap="round"/><path d="M690.0,171.4 Q690.2,174.5 689.6,174.9" stroke="#2F7A28" stroke-width="1.0" fill="none" stroke-linecap="round"/><path d="M719.5,208.2 Q719.4,208.6 720.8,211.9" stroke="#6CB25A" stroke-width="1.3" fill="none" stroke-linecap="round"/><path d="M671.5,174.8 Q670.9,176.6 670.1,176.7" stroke="#3A8630" stroke-width="1.2" fill="none" stroke-linecap="round"/><path d="M682.0,228.5 Q684.0,229.3 684.6,230.9" stroke="#B8DDAA" stroke-width="1.6" fill="none" stroke-linecap="round"/><path d="M660.3,241.6 Q660.8,244.4 660.2,244.5" stroke="#A5D596" stroke-width="1.6" fill="none" stroke-linecap="round"/><path d="M692.9,198.7 Q691.1,197.9 688.7,198.8" stroke="#2F7A28" stroke-width="1.5" fill="none" stroke-linecap="round"/><path d="M653.1,204.8 Q651.5,207.0 652.7,207.8" stroke="#2F7A28" stroke-width="0.7" fill="none" stroke-linecap="round"/><path d="M644.1,221.4 Q642.1,224.0 641.1,225.6" stroke="#B8DDAA" stroke-width="0.7" fill="none" stroke-linecap="round"/><path d="M690.0,192.1 Q690.7,192.4 690.0,195.3" stroke="#9FD28F" stroke-width="0.9" fill="none" stroke-linecap="round"/><path d="M711.4,195.2 Q713.4,198.8 713.8,200.0" stroke="#A5D596" stroke-width="1.5" fill="none" stroke-linecap="round"/><path d="M653.9,184.9 Q657.4,183.7 658.6,185.4" stroke="#6CB25A" stroke-width="1.3" fill="none" stroke-linecap="round"/><path d="M681.7,245.7 Q681.6,247.2 683.4,251.0" stroke="#9FD28F" stroke-width="1.5" fill="none" stroke-linecap="round"/><path d="M704.5,221.6 Q705.3,222.5 706.6,221.8" stroke="#74B863" stroke-width="0.8" fill="none" stroke-linecap="round"/><path d="M704.8,208.1 Q703.9,211.4 702.5,213.4" stroke="#B8DDAA" stroke-width="0.9" fill="none" stroke-linecap="round"/><path d="M679.3,219.2 Q681.0,221.2 680.2,221.0" stroke="#3A8630" stroke-width="1.2" fill="none" stroke-linecap="round"/><path d="M701.3,243.5 Q699.8,245.7 700.1,245.3" stroke="#6CB25A" stroke-width="1.3" fill="none" stroke-linecap="round"/><path d="M650.0,220.1 Q650.2,221.2 651.7,224.8" stroke="#B8DDAA" stroke-width="1.5" fill="none" stroke-linecap="round"/><path d="M678.4,239.8 Q677.0,242.4 675.6,243.9" stroke="#A5D596" stroke-width="0.8" fill="none" stroke-linecap="round"/><path d="M699.3,232.8 Q696.5,234.7 696.3,235.4" stroke="#B8DDAA" stroke-width="1.4" fill="none" stroke-linecap="round"/><path d="M664.7,207.6 Q661.7,206.5 660.2,208.0" stroke="#3A8630" stroke-width="1.0" fill="none" stroke-linecap="round"/><path d="M677.4,178.6 Q678.6,178.9 678.8,180.7" stroke="#A5D596" stroke-width="0.8" fill="none" stroke-linecap="round"/><path d="M686.1,199.1 Q683.3,200.0 682.8,199.8" stroke="#3A8630" stroke-width="1.2" fill="none" stroke-linecap="round"/><path d="M663.0,214.6 Q665.3,214.2 666.5,215.9" stroke="#74B863" stroke-width="1.6" fill="none" stroke-linecap="round"/><path d="M713.3,195.8 Q714.8,196.4 717.1,198.7" stroke="#86C474" stroke-width="0.7" fill="none" stroke-linecap="round"/><path d="M666.4,178.3 Q664.3,179.6 664.1,181.3" stroke="#9FD28F" stroke-width="1.2" fill="none" stroke-linecap="round"/><path d="M667.1,208.5 Q667.8,209.5 671.0,209.1" stroke="#A5D596" stroke-width="1.6" fill="none" stroke-linecap="round"/><path d="M690.1,170.8 Q691.1,172.2 690.3,174.6" stroke="#B8DDAA" stroke-width="1.0" fill="none" stroke-linecap="round"/><path d="M650.4,185.7 Q650.0,186.8 648.7,190.3" stroke="#3A8630" stroke-width="1.3" fill="none" stroke-linecap="round"/><path d="M644.9,194.9 Q645.3,196.3 648.0,196.4" stroke="#74B863" stroke-width="0.9" fill="none" stroke-linecap="round"/><path d="M694.6,193.6 Q693.5,195.3 693.1,196.6" stroke="#B8DDAA" stroke-width="1.0" fill="none" stroke-linecap="round"/><path d="M712.6,181.8 Q716.0,183.4 716.9,182.4" stroke="#2F7A28" stroke-width="1.1" fill="none" stroke-linecap="round"/><path d="M684.8,174.9 Q685.0,175.9 687.3,178.4" stroke="#9FD28F" stroke-width="0.7" fill="none" stroke-linecap="round"/><path d="M696.3,195.4 Q692.7,196.3 690.9,195.8" stroke="#A5D596" stroke-width="0.6" fill="none" stroke-linecap="round"/><path d="M713.4,233.5 Q710.7,233.4 710.5,235.8" stroke="#3A8630" stroke-width="1.3" fill="none" stroke-linecap="round"/><path d="M717.6,167.0 Q721.7,166.0 723.4,167.1" stroke="#74B863" stroke-width="0.9" fill="none" stroke-linecap="round"/><path d="M680.0,209.0 Q680.8,210.3 681.3,211.5" stroke="#9FD28F" stroke-width="1.0" fill="none" stroke-linecap="round"/><path d="M687.7,214.3 Q690.2,213.8 690.9,215.9" stroke="#9FD28F" stroke-width="1.3" fill="none" stroke-linecap="round"/><path d="M694.0,186.7 Q693.8,188.4 692.7,192.3" stroke="#A5D596" stroke-width="1.5" fill="none" stroke-linecap="round"/><path d="M687.4,214.9 Q686.6,214.5 684.8,216.3" stroke="#A5D596" stroke-width="1.2" fill="none" stroke-linecap="round"/><path d="M689.4,240.9 Q689.7,241.1 690.7,243.6" stroke="#A5D596" stroke-width="0.8" fill="none" stroke-linecap="round"/><path d="M717.6,207.7 Q720.6,207.7 722.7,209.6" stroke="#3A8630" stroke-width="1.3" fill="none" stroke-linecap="round"/><path d="M702.4,180.8 Q703.3,184.1 702.9,184.9" stroke="#9FD28F" stroke-width="1.2" fill="none" stroke-linecap="round"/><path d="M714.3,218.8 Q713.7,220.9 712.3,220.3" stroke="#9FD28F" stroke-width="1.1" fill="none" stroke-linecap="round"/><path d="M681.4,219.3 Q681.2,223.1 680.6,225.1" stroke="#B8DDAA" stroke-width="0.7" fill="none" stroke-linecap="round"/><path d="M708.0,166.5 Q709.9,169.1 710.6,168.9" stroke="#86C474" stroke-width="1.1" fill="none" stroke-linecap="round"/><path d="M652.9,173.1 Q652.0,174.7 650.7,173.8" stroke="#B8DDAA" stroke-width="1.5" fill="none" stroke-linecap="round"/><path d="M656.9,224.3 Q659.1,225.4 659.3,228.8" stroke="#86C474" stroke-width="1.0" fill="none" stroke-linecap="round"/><path d="M704.7,241.3 Q702.8,242.3 703.3,243.0" stroke="#6CB25A" stroke-width="1.4" fill="none" stroke-linecap="round"/><path d="M652.3,239.4 Q652.1,239.3 650.7,242.0" stroke="#B8DDAA" stroke-width="1.6" fill="none" stroke-linecap="round"/><path d="M679.7,228.2 Q678.8,229.5 679.8,230.5" stroke="#3A8630" stroke-width="0.9" fill="none" stroke-linecap="round"/><path d="M700.5,193.7 Q704.3,193.4 705.5,196.1" stroke="#3A8630" stroke-width="0.9" fill="none" stroke-linecap="round"/><path d="M655.5,203.8 Q651.8,205.2 650.7,205.9" stroke="#86C474" stroke-width="1.2" fill="none" stroke-linecap="round"/><path d="M693.2,232.5 Q690.5,233.9 688.5,233.0" stroke="#A5D596" stroke-width="1.2" fill="none" stroke-linecap="round"/><path d="M649.2,189.4 Q650.5,192.1 653.5,192.9" stroke="#86C474" stroke-width="1.3" fill="none" stroke-linecap="round"/><path d="M670.6,201.0 Q669.3,200.9 667.4,201.7" stroke="#6CB25A" stroke-width="0.6" fill="none" stroke-linecap="round"/><path d="M681.4,244.6 Q682.0,244.1 683.9,244.9" stroke="#74B863" stroke-width="1.1" fill="none" stroke-linecap="round"/><path d="M664.8,209.5 Q665.8,213.6 664.3,215.3" stroke="#86C474" stroke-width="0.7" fill="none" stroke-linecap="round"/><path d="M659.5,197.5 Q660.1,197.9 659.0,199.8" stroke="#3A8630" stroke-width="1.4" fill="none" stroke-linecap="round"/><path d="M654.7,167.8 Q653.0,168.4 651.3,168.1" stroke="#6CB25A" stroke-width="1.0" fill="none" stroke-linecap="round"/><path d="M689.1,195.8 Q691.9,197.0 692.4,196.4" stroke="#6CB25A" stroke-width="1.1" fill="none" stroke-linecap="round"/><path d="M717.9,229.7 Q715.1,230.8 715.3,229.7" stroke="#B8DDAA" stroke-width="1.1" fill="none" stroke-linecap="round"/><path d="M680.2,209.5 Q679.9,211.2 681.8,211.6" stroke="#9FD28F" stroke-width="0.9" fill="none" stroke-linecap="round"/><path d="M690.8,217.0 Q689.9,215.9 688.6,217.3" stroke="#B8DDAA" stroke-width="0.8" fill="none" stroke-linecap="round"/><path d="M691.6,244.6 Q693.3,248.2 693.8,249.2" stroke="#2F7A28" stroke-width="1.4" fill="none" stroke-linecap="round"/><path d="M669.6,176.4 Q668.0,176.3 665.6,177.7" stroke="#74B863" stroke-width="0.6" fill="none" stroke-linecap="round"/><path d="M646.8,199.3 Q644.4,200.5 643.9,200.4" stroke="#9FD28F" stroke-width="1.6" fill="none" stroke-linecap="round"/><path d="M693.3,168.4 Q691.7,168.4 688.7,171.5" stroke="#6CB25A" stroke-width="0.9" fill="none" stroke-linecap="round"/><path d="M696.8,163.0 Q696.8,164.6 697.9,164.8" stroke="#6CB25A" stroke-width="1.2" fill="none" stroke-linecap="round"/><path d="M676.8,218.7 Q678.3,218.5 677.9,220.7" stroke="#2F7A28" stroke-width="1.2" fill="none" stroke-linecap="round"/><path d="M708.0,244.7 Q707.5,246.9 709.8,250.2" stroke="#86C474" stroke-width="1.3" fill="none" stroke-linecap="round"/><path d="M669.1,196.6 Q666.3,197.6 665.9,200.8" stroke="#74B863" stroke-width="0.7" fill="none" stroke-linecap="round"/><path d="M707.2,169.2 Q706.2,170.6 704.2,171.3" stroke="#74B863" stroke-width="0.9" fill="none" stroke-linecap="round"/><path d="M705.1,183.4 Q703.9,185.5 701.9,187.3" stroke="#3A8630" stroke-width="1.3" fill="none" stroke-linecap="round"/><path d="M689.8,192.1 Q688.2,193.5 689.5,195.1" stroke="#3A8630" stroke-width="1.3" fill="none" stroke-linecap="round"/><path d="M707.8,192.1 Q707.7,192.6 704.9,192.2" stroke="#9FD28F" stroke-width="0.7" fill="none" stroke-linecap="round"/><path d="M688.4,178.9 Q688.0,181.1 686.1,180.9" stroke="#6CB25A" stroke-width="1.5" fill="none" stroke-linecap="round"/><path d="M714.7,227.1 Q714.4,229.9 714.4,230.5" stroke="#B8DDAA" stroke-width="0.8" fill="none" stroke-linecap="round"/><path d="M719.4,237.4 Q718.7,239.4 720.4,240.1" stroke="#86C474" stroke-width="0.7" fill="none" stroke-linecap="round"/><path d="M697.0,195.5 Q695.7,197.2 695.0,196.4" stroke="#2F7A28" stroke-width="1.5" fill="none" stroke-linecap="round"/><path d="M695.5,180.5 Q695.8,181.2 697.6,182.7" stroke="#2F7A28" stroke-width="0.9" fill="none" stroke-linecap="round"/><path d="M678.6,185.1 Q676.6,187.1 674.8,186.6" stroke="#74B863" stroke-width="1.4" fill="none" stroke-linecap="round"/><path d="M723.0,173.2 Q723.6,175.3 724.3,175.1" stroke="#86C474" stroke-width="0.8" fill="none" stroke-linecap="round"/><path d="M700.2,211.9 Q701.5,214.7 700.8,216.2" stroke="#B8DDAA" stroke-width="0.6" fill="none" stroke-linecap="round"/><path d="M707.8,198.6 Q708.6,200.8 708.3,201.1" stroke="#3A8630" stroke-width="0.8" fill="none" stroke-linecap="round"/><path d="M719.5,172.9 Q719.4,173.5 721.8,176.2" stroke="#6CB25A" stroke-width="1.3" fill="none" stroke-linecap="round"/><path d="M650.4,190.2 Q649.5,189.4 645.7,191.5" stroke="#6CB25A" stroke-width="0.8" fill="none" stroke-linecap="round"/><path d="M709.3,219.6 Q711.6,220.4 713.3,220.1" stroke="#B8DDAA" stroke-width="1.3" fill="none" stroke-linecap="round"/><path d="M646.9,236.8 Q649.5,237.1 649.3,237.3" stroke="#A5D596" stroke-width="0.6" fill="none" stroke-linecap="round"/><path d="M661.6,207.1 Q660.8,210.0 659.9,210.9" stroke="#9FD28F" stroke-width="1.6" fill="none" stroke-linecap="round"/><path d="M649.3,243.2 Q647.4,243.9 644.0,245.8" stroke="#B8DDAA" stroke-width="0.8" fill="none" stroke-linecap="round"/><path d="M665.0,167.5 Q667.9,169.1 669.0,168.0" stroke="#2F7A28" stroke-width="0.9" fill="none" stroke-linecap="round"/><path d="M670.2,165.2 Q671.0,168.2 670.6,168.3" stroke="#6CB25A" stroke-width="1.5" fill="none" stroke-linecap="round"/><path d="M703.1,195.2 Q703.7,196.4 705.1,198.3" stroke="#74B863" stroke-width="1.0" fill="none" stroke-linecap="round"/><path d="M654.8,245.6 Q657.6,246.3 659.2,245.6" stroke="#3A8630" stroke-width="1.6" fill="none" stroke-linecap="round"/><path d="M712.1,217.4 Q715.5,216.7 716.5,218.6" stroke="#86C474" stroke-width="1.3" fill="none" stroke-linecap="round"/><path d="M670.0,216.0 Q669.7,218.0 669.5,219.2" stroke="#86C474" stroke-width="1.1" fill="none" stroke-linecap="round"/><path d="M671.6,207.6 Q672.1,208.7 673.5,212.5" stroke="#2F7A28" stroke-width="1.6" fill="none" stroke-linecap="round"/><path d="M665.2,217.1 Q665.5,218.5 663.2,218.3" stroke="#B8DDAA" stroke-width="0.9" fill="none" stroke-linecap="round"/><path d="M713.4,233.7 Q715.9,234.4 715.5,237.6" stroke="#B8DDAA" stroke-width="1.4" fill="none" stroke-linecap="round"/><path d="M673.4,178.9 Q673.8,180.3 676.4,180.7" stroke="#74B863" stroke-width="0.8" fill="none" stroke-linecap="round"/><path d="M722.4,233.6 Q720.7,237.1 719.8,238.6" stroke="#6CB25A" stroke-width="1.4" fill="none" stroke-linecap="round"/><path d="M653.1,174.6 Q654.5,175.5 654.8,176.3" stroke="#6CB25A" stroke-width="0.9" fill="none" stroke-linecap="round"/><path d="M698.4,184.8 Q699.4,186.2 700.7,187.8" stroke="#9FD28F" stroke-width="1.4" fill="none" stroke-linecap="round"/><path d="M706.5,174.3 Q706.0,175.8 704.7,177.2" stroke="#B8DDAA" stroke-width="1.4" fill="none" stroke-linecap="round"/><path d="M664.0,208.4 Q665.0,208.6 667.1,208.4" stroke="#74B863" stroke-width="1.5" fill="none" stroke-linecap="round"/><path d="M664.3,184.0 Q665.7,185.1 665.1,188.0" stroke="#A5D596" stroke-width="1.0" fill="none" stroke-linecap="round"/><path d="M709.4,213.6 Q709.4,213.2 710.2,215.6" stroke="#A5D596" stroke-width="1.4" fill="none" stroke-linecap="round"/><path d="M724.3,197.9 Q723.4,199.6 723.3,200.8" stroke="#B8DDAA" stroke-width="1.5" fill="none" stroke-linecap="round"/><path d="M658.9,243.3 Q657.3,243.4 656.7,246.0" stroke="#B8DDAA" stroke-width="1.4" fill="none" stroke-linecap="round"/><path d="M674.7,205.9 Q673.5,208.9 674.7,211.5" stroke="#86C474" stroke-width="1.5" fill="none" stroke-linecap="round"/><path d="M701.7,198.3 Q700.1,198.3 699.0,198.4" stroke="#9FD28F" stroke-width="1.1" fill="none" stroke-linecap="round"/><path d="M712.1,218.0 Q712.1,218.7 709.6,220.6" stroke="#86C474" stroke-width="0.9" fill="none" stroke-linecap="round"/><path d="M675.3,200.3 Q676.7,199.8 680.5,201.8" stroke="#86C474" stroke-width="1.4" fill="none" stroke-linecap="round"/><path d="M690.2,166.3 Q690.0,168.5 687.6,170.4" stroke="#A5D596" stroke-width="1.3" fill="none" stroke-linecap="round"/><path d="M713.7,173.5 Q713.4,173.6 714.3,175.6" stroke="#74B863" stroke-width="1.6" fill="none" stroke-linecap="round"/><path d="M658.4,207.0 Q657.6,209.2 658.3,209.3" stroke="#2F7A28" stroke-width="1.2" fill="none" stroke-linecap="round"/><path d="M685.7,197.0 Q688.2,198.3 688.9,197.5" stroke="#2F7A28" stroke-width="0.9" fill="none" stroke-linecap="round"/><path d="M659.8,166.1 Q660.0,168.4 659.4,169.5" stroke="#A5D596" stroke-width="0.7" fill="none" stroke-linecap="round"/><path d="M721.0,190.4 Q722.0,191.3 721.6,195.2" stroke="#86C474" stroke-width="0.7" fill="none" stroke-linecap="round"/><path d="M722.7,230.9 Q723.5,231.7 725.6,231.2" stroke="#A5D596" stroke-width="1.4" fill="none" stroke-linecap="round"/><path d="M692.5,199.9 Q689.4,200.1 688.8,200.7" stroke="#B8DDAA" stroke-width="1.2" fill="none" stroke-linecap="round"/><path d="M646.9,234.2 Q647.6,235.3 651.2,235.1" stroke="#74B863" stroke-width="1.3" fill="none" stroke-linecap="round"/><path d="M656.6,180.2 Q655.1,181.1 653.4,184.1" stroke="#B8DDAA" stroke-width="1.4" fill="none" stroke-linecap="round"/><path d="M702.9,205.1 Q704.4,206.2 703.2,207.9" stroke="#9FD28F" stroke-width="1.3" fill="none" stroke-linecap="round"/><path d="M664.4,237.8 Q665.0,237.8 663.0,240.0" stroke="#86C474" stroke-width="0.8" fill="none" stroke-linecap="round"/><path d="M680.3,225.4 Q677.3,225.7 675.5,227.4" stroke="#74B863" stroke-width="1.1" fill="none" stroke-linecap="round"/><path d="M660.8,241.1 Q659.6,241.4 659.4,243.7" stroke="#86C474" stroke-width="0.9" fill="none" stroke-linecap="round"/><path d="M697.8,220.0 Q698.6,221.3 699.9,221.5" stroke="#74B863" stroke-width="0.7" fill="none" stroke-linecap="round"/><path d="M712.4,172.0 Q708.9,172.2 706.6,173.4" stroke="#9FD28F" stroke-width="1.4" fill="none" stroke-linecap="round"/><path d="M684.5,239.8 Q686.7,240.5 688.3,240.9" stroke="#3A8630" stroke-width="0.7" fill="none" stroke-linecap="round"/><path d="M654.5,184.5 Q652.2,184.8 649.5,186.3" stroke="#B8DDAA" stroke-width="1.2" fill="none" stroke-linecap="round"/><path d="M651.3,161.8 Q651.0,162.1 653.4,163.3" stroke="#3A8630" stroke-width="1.0" fill="none" stroke-linecap="round"/><path d="M663.6,224.1 Q666.7,226.1 667.9,226.8" stroke="#3A8630" stroke-width="1.1" fill="none" stroke-linecap="round"/><path d="M705.5,171.2 Q705.7,172.1 708.7,172.9" stroke="#86C474" stroke-width="0.7" fill="none" stroke-linecap="round"/><path d="M697.1,172.8 Q697.4,175.1 696.3,176.1" stroke="#6CB25A" stroke-width="1.0" fill="none" stroke-linecap="round"/><path d="M698.5,169.3 Q700.2,168.6 703.0,169.3" stroke="#A5D596" stroke-width="0.7" fill="none" stroke-linecap="round"/><path d="M662.9,174.6 Q664.1,175.1 665.6,177.7" stroke="#6CB25A" stroke-width="1.1" fill="none" stroke-linecap="round"/><path d="M685.4,192.5 Q688.3,194.8 688.3,194.6" stroke="#B8DDAA" stroke-width="1.3" fill="none" stroke-linecap="round"/><path d="M687.7,181.8 Q688.8,183.1 690.0,182.5" stroke="#86C474" stroke-width="1.2" fill="none" stroke-linecap="round"/><path d="M700.7,181.0 Q701.2,181.7 698.8,182.8" stroke="#3A8630" stroke-width="1.2" fill="none" stroke-linecap="round"/><path d="M652.0,209.6 Q653.4,210.7 656.3,211.3" stroke="#B8DDAA" stroke-width="1.4" fill="none" stroke-linecap="round"/><path d="M702.5,166.9 Q702.7,168.8 705.7,170.0" stroke="#9FD28F" stroke-width="1.3" fill="none" stroke-linecap="round"/><path d="M711.2,190.4 Q708.2,192.8 708.0,192.6" stroke="#74B863" stroke-width="1.0" fill="none" stroke-linecap="round"/><path d="M677.0,169.1 Q677.7,170.3 680.5,172.5" stroke="#74B863" stroke-width="0.7" fill="none" stroke-linecap="round"/><path d="M659.4,180.2 Q661.8,182.6 662.4,185.2" stroke="#86C474" stroke-width="1.1" fill="none" stroke-linecap="round"/><path d="M708.3,238.0 Q707.7,238.2 705.0,241.2" stroke="#B8DDAA" stroke-width="1.0" fill="none" stroke-linecap="round"/><path d="M677.4,216.4 Q675.7,217.3 673.0,216.8" stroke="#A5D596" stroke-width="0.7" fill="none" stroke-linecap="round"/><path d="M712.4,240.4 Q709.8,242.1 707.6,241.9" stroke="#74B863" stroke-width="1.4" fill="none" stroke-linecap="round"/><path d="M715.9,186.8 Q712.6,187.9 711.9,187.3" stroke="#9FD28F" stroke-width="1.4" fill="none" stroke-linecap="round"/><path d="M705.9,232.9 Q708.6,234.6 709.0,235.9" stroke="#B8DDAA" stroke-width="1.5" fill="none" stroke-linecap="round"/><path d="M717.5,165.9 Q717.6,167.2 715.8,169.0" stroke="#6CB25A" stroke-width="0.7" fill="none" stroke-linecap="round"/><path d="M697.6,231.9 Q699.5,232.4 699.7,235.8" stroke="#2F7A28" stroke-width="1.1" fill="none" stroke-linecap="round"/><path d="M644.2,171.0 Q642.5,171.5 641.1,173.0" stroke="#3A8630" stroke-width="0.8" fill="none" stroke-linecap="round"/><path d="M672.5,232.6 Q673.4,233.2 671.4,235.6" stroke="#9FD28F" stroke-width="1.5" fill="none" stroke-linecap="round"/><path d="M677.0,206.9 Q677.7,209.1 679.1,208.9" stroke="#86C474" stroke-width="1.0" fill="none" stroke-linecap="round"/><path d="M670.7,174.4 Q671.6,174.7 673.7,176.1" stroke="#2F7A28" stroke-width="1.5" fill="none" stroke-linecap="round"/><path d="M709.2,212.7 Q706.7,212.4 703.9,215.2" stroke="#2F7A28" stroke-width="0.8" fill="none" stroke-linecap="round"/><path d="M722.2,199.9 Q721.5,202.2 719.7,201.6" stroke="#6CB25A" stroke-width="1.3" fill="none" stroke-linecap="round"/><path d="M706.1,217.7 Q708.8,217.4 710.6,219.7" stroke="#3A8630" stroke-width="1.2" fill="none" stroke-linecap="round"/><path d="M680.1,242.2 Q682.4,245.2 682.1,246.4" stroke="#2F7A28" stroke-width="0.7" fill="none" stroke-linecap="round"/><path d="M697.8,203.1 Q697.4,203.8 696.6,204.8" stroke="#9FD28F" stroke-width="1.4" fill="none" stroke-linecap="round"/><path d="M717.7,222.9 Q716.8,222.2 716.1,224.4" stroke="#6CB25A" stroke-width="1.5" fill="none" stroke-linecap="round"/><path d="M665.6,177.5 Q662.7,178.2 661.7,178.5" stroke="#2F7A28" stroke-width="1.6" fill="none" stroke-linecap="round"/><path d="M695.5,182.0 Q695.1,183.6 693.9,183.4" stroke="#2F7A28" stroke-width="1.3" fill="none" stroke-linecap="round"/><path d="M674.8,242.6 Q672.8,245.5 671.8,246.4" stroke="#3A8630" stroke-width="1.1" fill="none" stroke-linecap="round"/><path d="M646.9,206.4 Q644.5,207.6 644.2,207.3" stroke="#86C474" stroke-width="0.8" fill="none" stroke-linecap="round"/><path d="M669.0,166.2 Q671.4,166.7 671.1,169.0" stroke="#6CB25A" stroke-width="0.9" fill="none" stroke-linecap="round"/><path d="M722.1,178.3 Q723.6,179.5 724.1,181.5" stroke="#9FD28F" stroke-width="0.9" fill="none" stroke-linecap="round"/><path d="M709.4,201.4 Q712.1,202.1 714.8,203.4" stroke="#A5D596" stroke-width="0.8" fill="none" stroke-linecap="round"/><path d="M717.8,165.4 Q719.8,166.3 720.4,168.6" stroke="#2F7A28" stroke-width="1.0" fill="none" stroke-linecap="round"/><path d="M719.9,206.2 Q721.1,206.5 722.7,209.7" stroke="#3A8630" stroke-width="1.1" fill="none" stroke-linecap="round"/><path d="M701.4,187.4 Q702.1,190.1 700.4,190.6" stroke="#B8DDAA" stroke-width="0.7" fill="none" stroke-linecap="round"/><path d="M693.4,231.3 Q690.3,231.5 689.2,233.7" stroke="#3A8630" stroke-width="1.3" fill="none" stroke-linecap="round"/><path d="M705.2,171.6 Q705.7,174.2 706.8,176.7" stroke="#6CB25A" stroke-width="0.9" fill="none" stroke-linecap="round"/><path d="M715.5,221.5 Q718.2,223.8 719.9,223.7" stroke="#2F7A28" stroke-width="0.7" fill="none" stroke-linecap="round"/><path d="M671.3,167.2 Q672.0,168.9 672.3,171.1" stroke="#B8DDAA" stroke-width="1.2" fill="none" stroke-linecap="round"/><ellipse cx="677.8" cy="202.7" rx="2.5" ry="6.0" fill="#A9D69A" transform="rotate(-20 677.8 202.7)"/><ellipse cx="692.8" cy="199.7" rx="3.0" ry="2.5" fill="#A9D69A" transform="rotate(0 692.8 199.7)"/><ellipse cx="696.8" cy="185.7" rx="3.0" ry="4.0" fill="#A9D69A" transform="rotate(30 696.8 185.7)"/><ellipse cx="687.8" cy="211.7" rx="3.0" ry="2.0" fill="#A9D69A" transform="rotate(20 687.8 211.7)"/></g>
<circle cx="684.8" cy="203.7" r="44.2" fill="none" stroke="#7F7F7F" stroke-width="6.6"/>
<circle cx="534.9" cy="266.5" r="44.2" fill="#FFFFFF"/>
<g><ellipse cx="534.3" cy="265.9" rx="29.8" ry="25" fill="#E2EAF5" stroke="#BFD0E8" stroke-width="0.8"/><ellipse cx="535.0" cy="265.0" rx="27" ry="22" fill="#EEF3FA" stroke="#C8D6EC" stroke-width="0.8"/><polygon points="510.7,259.0 513.0,251.0 519.0,245.5 527.0,242.0 538.6,241.5 539.0,246.0 533.0,250.0 524.0,252.5 517.0,256.0 513.0,261.0" fill="#2F63B2"/><polygon points="507.0,262.0 513.0,262.5 518.0,269.0 519.0,275.0 513.0,273.0 508.0,268.0" fill="#2F63B2"/><path d="M514.0,286.0 Q526.0,291.0 542.0,290.5" fill="none" stroke="#8DB2E0" stroke-width="1.6"/><path d="M552.0,249.0 Q558.0,254.0 560.0,262.0" fill="none" stroke="#D88890" stroke-width="0.5"/><path d="M515.0,262.0 C517.0,252.0 528.0,250.0 538.0,251.5 C548.0,253.0 553.0,259.0 552.5,268.0 C552.0,277.0 545.0,283.0 534.0,283.5 C522.0,284.0 514.0,276.0 515.0,262.0 Z" fill="#E8969B"/><ellipse cx="531.3" cy="280.9" rx="1.2" ry="0.7" fill="#D9777F" transform="rotate(56 531.3 280.9)"/><ellipse cx="526.5" cy="255.8" rx="1.0" ry="0.8" fill="#F6C2C4" transform="rotate(166 526.5 255.8)"/><ellipse cx="526.8" cy="272.8" rx="1.1" ry="0.8" fill="#E48A90" transform="rotate(156 526.8 272.8)"/><ellipse cx="545.4" cy="259.6" rx="1.2" ry="0.6" fill="#F2A9AD" transform="rotate(155 545.4 259.6)"/><ellipse cx="535.6" cy="274.2" rx="0.7" ry="0.7" fill="#F6C2C4" transform="rotate(92 535.6 274.2)"/><ellipse cx="546.2" cy="268.9" rx="0.7" ry="0.8" fill="#D9777F" transform="rotate(0 546.2 268.9)"/><ellipse cx="518.9" cy="270.7" rx="1.0" ry="0.6" fill="#E48A90" transform="rotate(151 518.9 270.7)"/><ellipse cx="518.9" cy="262.7" rx="0.6" ry="0.7" fill="#F6C2C4" transform="rotate(123 518.9 262.7)"/><ellipse cx="535.9" cy="279.0" rx="0.9" ry="0.5" fill="#D9777F" transform="rotate(55 535.9 279.0)"/><ellipse cx="518.8" cy="262.6" rx="0.8" ry="0.8" fill="#F6C2C4" transform="rotate(57 518.8 262.6)"/><ellipse cx="534.2" cy="264.8" rx="1.0" ry="0.6" fill="#F6C2C4" transform="rotate(161 534.2 264.8)"/><ellipse cx="532.9" cy="271.7" rx="0.7" ry="0.6" fill="#E48A90" transform="rotate(57 532.9 271.7)"/><ellipse cx="525.5" cy="255.1" rx="0.6" ry="0.5" fill="#F2A9AD" transform="rotate(168 525.5 255.1)"/><ellipse cx="538.4" cy="267.0" rx="1.0" ry="0.5" fill="#E48A90" transform="rotate(174 538.4 267.0)"/><ellipse cx="543.7" cy="259.3" rx="0.8" ry="0.6" fill="#F6C2C4" transform="rotate(103 543.7 259.3)"/><ellipse cx="541.4" cy="278.6" rx="0.7" ry="0.8" fill="#F6C2C4" transform="rotate(112 541.4 278.6)"/><ellipse cx="536.4" cy="254.2" rx="1.2" ry="0.7" fill="#D9777F" transform="rotate(143 536.4 254.2)"/><ellipse cx="534.3" cy="253.6" rx="0.8" ry="0.7" fill="#F6C2C4" transform="rotate(156 534.3 253.6)"/><ellipse cx="532.9" cy="263.6" rx="0.8" ry="0.4" fill="#F2A9AD" transform="rotate(142 532.9 263.6)"/><ellipse cx="529.3" cy="272.1" rx="1.1" ry="0.8" fill="#F2A9AD" transform="rotate(26 529.3 272.1)"/><ellipse cx="540.7" cy="269.0" rx="0.9" ry="0.8" fill="#E48A90" transform="rotate(26 540.7 269.0)"/><ellipse cx="524.8" cy="278.9" rx="0.9" ry="0.8" fill="#E48A90" transform="rotate(21 524.8 278.9)"/><ellipse cx="547.0" cy="260.3" rx="1.0" ry="0.7" fill="#D9777F" transform="rotate(27 547.0 260.3)"/><ellipse cx="525.1" cy="266.0" rx="0.9" ry="0.5" fill="#F6C2C4" transform="rotate(49 525.1 266.0)"/><ellipse cx="529.5" cy="253.2" rx="1.4" ry="0.6" fill="#E48A90" transform="rotate(41 529.5 253.2)"/><ellipse cx="539.8" cy="254.6" rx="0.7" ry="0.4" fill="#D9777F" transform="rotate(149 539.8 254.6)"/><ellipse cx="530.8" cy="266.8" rx="1.3" ry="0.8" fill="#F6C2C4" transform="rotate(118 530.8 266.8)"/><ellipse cx="535.2" cy="260.6" rx="1.1" ry="0.8" fill="#F2A9AD" transform="rotate(86 535.2 260.6)"/><ellipse cx="522.0" cy="257.3" rx="1.0" ry="0.7" fill="#D9777F" transform="rotate(1 522.0 257.3)"/><ellipse cx="534.4" cy="281.6" rx="0.9" ry="0.4" fill="#D9777F" transform="rotate(51 534.4 281.6)"/><ellipse cx="521.4" cy="271.5" rx="1.3" ry="0.7" fill="#E48A90" transform="rotate(17 521.4 271.5)"/><ellipse cx="520.3" cy="261.9" rx="1.3" ry="0.5" fill="#D9777F" transform="rotate(166 520.3 261.9)"/><ellipse cx="517.6" cy="270.0" rx="1.1" ry="0.4" fill="#E48A90" transform="rotate(153 517.6 270.0)"/><ellipse cx="522.9" cy="275.8" rx="1.2" ry="0.8" fill="#F6C2C4" transform="rotate(100 522.9 275.8)"/><ellipse cx="519.9" cy="262.1" rx="0.8" ry="0.7" fill="#F6C2C4" transform="rotate(62 519.9 262.1)"/><ellipse cx="548.1" cy="275.5" rx="1.2" ry="0.4" fill="#F6C2C4" transform="rotate(102 548.1 275.5)"/><ellipse cx="534.7" cy="281.7" rx="0.8" ry="0.7" fill="#E48A90" transform="rotate(67 534.7 281.7)"/><ellipse cx="545.3" cy="269.9" rx="1.0" ry="0.8" fill="#F6C2C4" transform="rotate(47 545.3 269.9)"/><ellipse cx="541.6" cy="275.8" rx="1.1" ry="0.5" fill="#E48A90" transform="rotate(0 541.6 275.8)"/><ellipse cx="536.4" cy="268.4" rx="1.1" ry="0.4" fill="#F6C2C4" transform="rotate(180 536.4 268.4)"/><ellipse cx="545.9" cy="271.0" rx="0.8" ry="0.6" fill="#F6C2C4" transform="rotate(143 545.9 271.0)"/><ellipse cx="533.6" cy="265.0" rx="1.3" ry="0.7" fill="#E48A90" transform="rotate(53 533.6 265.0)"/><ellipse cx="543.9" cy="275.7" rx="0.8" ry="0.6" fill="#F6C2C4" transform="rotate(156 543.9 275.7)"/><ellipse cx="546.5" cy="265.7" rx="0.9" ry="0.4" fill="#D9777F" transform="rotate(25 546.5 265.7)"/><ellipse cx="541.4" cy="271.5" rx="0.8" ry="0.5" fill="#E48A90" transform="rotate(155 541.4 271.5)"/><ellipse cx="524.7" cy="263.3" rx="0.8" ry="0.4" fill="#F6C2C4" transform="rotate(29 524.7 263.3)"/><ellipse cx="527.4" cy="255.3" rx="0.8" ry="0.6" fill="#E48A90" transform="rotate(156 527.4 255.3)"/><ellipse cx="526.5" cy="264.2" rx="1.2" ry="0.7" fill="#F6C2C4" transform="rotate(5 526.5 264.2)"/><ellipse cx="541.4" cy="256.5" rx="0.6" ry="0.7" fill="#E48A90" transform="rotate(14 541.4 256.5)"/><ellipse cx="541.0" cy="280.5" rx="1.0" ry="0.7" fill="#F2A9AD" transform="rotate(76 541.0 280.5)"/><ellipse cx="535.4" cy="265.2" rx="0.9" ry="0.5" fill="#D9777F" transform="rotate(167 535.4 265.2)"/><ellipse cx="527.0" cy="258.7" rx="1.1" ry="0.7" fill="#F2A9AD" transform="rotate(70 527.0 258.7)"/><ellipse cx="534.4" cy="265.7" rx="1.0" ry="0.5" fill="#F2A9AD" transform="rotate(84 534.4 265.7)"/><ellipse cx="549.1" cy="267.4" rx="0.8" ry="0.5" fill="#F6C2C4" transform="rotate(136 549.1 267.4)"/><ellipse cx="535.4" cy="269.7" rx="1.3" ry="0.6" fill="#F2A9AD" transform="rotate(93 535.4 269.7)"/><ellipse cx="539.3" cy="269.4" rx="1.0" ry="0.5" fill="#F6C2C4" transform="rotate(166 539.3 269.4)"/><ellipse cx="529.2" cy="260.9" rx="1.3" ry="0.8" fill="#F6C2C4" transform="rotate(165 529.2 260.9)"/><ellipse cx="535.9" cy="275.1" rx="1.3" ry="0.4" fill="#F2A9AD" transform="rotate(110 535.9 275.1)"/><ellipse cx="530.0" cy="252.7" rx="0.7" ry="0.6" fill="#D9777F" transform="rotate(176 530.0 252.7)"/><ellipse cx="542.5" cy="264.7" rx="0.9" ry="0.5" fill="#F6C2C4" transform="rotate(23 542.5 264.7)"/><ellipse cx="530.8" cy="260.9" rx="0.8" ry="0.8" fill="#D9777F" transform="rotate(167 530.8 260.9)"/><ellipse cx="537.8" cy="269.0" rx="0.9" ry="0.4" fill="#F6C2C4" transform="rotate(137 537.8 269.0)"/><ellipse cx="544.2" cy="268.1" rx="0.7" ry="0.4" fill="#E48A90" transform="rotate(165 544.2 268.1)"/><ellipse cx="547.9" cy="264.9" rx="0.8" ry="0.7" fill="#D9777F" transform="rotate(25 547.9 264.9)"/><ellipse cx="533.4" cy="276.7" rx="1.2" ry="0.5" fill="#F6C2C4" transform="rotate(117 533.4 276.7)"/><ellipse cx="524.9" cy="278.7" rx="0.6" ry="0.7" fill="#D9777F" transform="rotate(27 524.9 278.7)"/><ellipse cx="543.3" cy="256.7" rx="1.1" ry="0.5" fill="#F6C2C4" transform="rotate(48 543.3 256.7)"/><ellipse cx="538.4" cy="269.3" rx="1.2" ry="0.7" fill="#F2A9AD" transform="rotate(169 538.4 269.3)"/><ellipse cx="533.4" cy="270.5" rx="1.0" ry="0.7" fill="#F6C2C4" transform="rotate(98 533.4 270.5)"/><ellipse cx="533.6" cy="271.8" rx="1.1" ry="0.4" fill="#F2A9AD" transform="rotate(3 533.6 271.8)"/><ellipse cx="531.8" cy="281.7" rx="1.3" ry="0.5" fill="#D9777F" transform="rotate(35 531.8 281.7)"/><ellipse cx="523.5" cy="276.7" rx="0.9" ry="0.5" fill="#F6C2C4" transform="rotate(63 523.5 276.7)"/><ellipse cx="539.7" cy="264.0" rx="1.2" ry="0.8" fill="#F6C2C4" transform="rotate(57 539.7 264.0)"/><ellipse cx="523.9" cy="255.9" rx="1.2" ry="0.7" fill="#D9777F" transform="rotate(164 523.9 255.9)"/><ellipse cx="540.7" cy="262.5" rx="0.6" ry="0.4" fill="#E48A90" transform="rotate(94 540.7 262.5)"/><ellipse cx="534.0" cy="269.9" rx="1.0" ry="0.4" fill="#E48A90" transform="rotate(142 534.0 269.9)"/><ellipse cx="532.4" cy="262.8" rx="0.7" ry="0.6" fill="#D9777F" transform="rotate(59 532.4 262.8)"/><ellipse cx="529.8" cy="269.0" rx="0.8" ry="0.5" fill="#E48A90" transform="rotate(120 529.8 269.0)"/><ellipse cx="534.4" cy="276.0" rx="0.6" ry="0.6" fill="#E48A90" transform="rotate(55 534.4 276.0)"/><ellipse cx="518.6" cy="261.9" rx="1.4" ry="0.7" fill="#F6C2C4" transform="rotate(15 518.6 261.9)"/><ellipse cx="545.6" cy="263.5" rx="0.8" ry="0.5" fill="#F2A9AD" transform="rotate(54 545.6 263.5)"/><ellipse cx="543.4" cy="273.5" rx="1.0" ry="0.8" fill="#D9777F" transform="rotate(19 543.4 273.5)"/><ellipse cx="538.6" cy="256.1" rx="0.7" ry="0.5" fill="#F2A9AD" transform="rotate(17 538.6 256.1)"/><ellipse cx="546.4" cy="277.5" rx="1.0" ry="0.5" fill="#F6C2C4" transform="rotate(160 546.4 277.5)"/><ellipse cx="526.5" cy="258.5" rx="0.6" ry="0.6" fill="#F6C2C4" transform="rotate(137 526.5 258.5)"/><ellipse cx="524.5" cy="256.7" rx="1.1" ry="0.5" fill="#F2A9AD" transform="rotate(37 524.5 256.7)"/><ellipse cx="521.2" cy="276.5" rx="0.9" ry="0.4" fill="#F2A9AD" transform="rotate(168 521.2 276.5)"/><ellipse cx="539.8" cy="263.6" rx="0.8" ry="0.6" fill="#F6C2C4" transform="rotate(115 539.8 263.6)"/><ellipse cx="534.4" cy="270.1" rx="1.0" ry="0.5" fill="#D9777F" transform="rotate(77 534.4 270.1)"/><ellipse cx="533.6" cy="255.8" rx="1.4" ry="0.6" fill="#D9777F" transform="rotate(3 533.6 255.8)"/><ellipse cx="525.9" cy="275.3" rx="0.7" ry="0.5" fill="#E48A90" transform="rotate(172 525.9 275.3)"/><ellipse cx="547.5" cy="266.7" rx="0.8" ry="0.7" fill="#D9777F" transform="rotate(79 547.5 266.7)"/><ellipse cx="545.5" cy="267.3" rx="0.8" ry="0.8" fill="#F2A9AD" transform="rotate(8 545.5 267.3)"/><ellipse cx="525.2" cy="272.1" rx="1.1" ry="0.4" fill="#F2A9AD" transform="rotate(41 525.2 272.1)"/><ellipse cx="534.9" cy="281.0" rx="0.7" ry="0.7" fill="#E48A90" transform="rotate(121 534.9 281.0)"/><ellipse cx="520.0" cy="262.5" rx="0.7" ry="0.5" fill="#F6C2C4" transform="rotate(70 520.0 262.5)"/><ellipse cx="540.2" cy="265.9" rx="0.7" ry="0.6" fill="#F2A9AD" transform="rotate(14 540.2 265.9)"/><ellipse cx="539.3" cy="275.8" rx="0.7" ry="0.7" fill="#E48A90" transform="rotate(64 539.3 275.8)"/><ellipse cx="544.6" cy="259.4" rx="1.3" ry="0.8" fill="#F2A9AD" transform="rotate(104 544.6 259.4)"/><ellipse cx="543.3" cy="272.9" rx="1.3" ry="0.8" fill="#F2A9AD" transform="rotate(18 543.3 272.9)"/><ellipse cx="529.5" cy="281.6" rx="1.3" ry="0.6" fill="#E48A90" transform="rotate(76 529.5 281.6)"/><ellipse cx="538.7" cy="255.9" rx="1.0" ry="0.4" fill="#D9777F" transform="rotate(127 538.7 255.9)"/><ellipse cx="526.4" cy="257.7" rx="1.2" ry="0.8" fill="#D9777F" transform="rotate(111 526.4 257.7)"/><ellipse cx="548.4" cy="273.8" rx="1.1" ry="0.5" fill="#F2A9AD" transform="rotate(164 548.4 273.8)"/><ellipse cx="534.6" cy="276.3" rx="1.0" ry="0.7" fill="#F6C2C4" transform="rotate(179 534.6 276.3)"/><ellipse cx="532.9" cy="255.5" rx="1.0" ry="0.7" fill="#F6C2C4" transform="rotate(113 532.9 255.5)"/><ellipse cx="519.5" cy="269.2" rx="1.2" ry="0.7" fill="#D9777F" transform="rotate(119 519.5 269.2)"/><ellipse cx="548.7" cy="263.9" rx="0.8" ry="0.6" fill="#D9777F" transform="rotate(138 548.7 263.9)"/><ellipse cx="519.3" cy="275.3" rx="1.3" ry="0.5" fill="#F2A9AD" transform="rotate(97 519.3 275.3)"/><ellipse cx="525.8" cy="256.1" rx="0.7" ry="0.5" fill="#D9777F" transform="rotate(68 525.8 256.1)"/></g>
<circle cx="534.9" cy="266.5" r="44.2" fill="none" stroke="#7F7F7F" stroke-width="6.6"/>
<circle cx="822.5" cy="261.2" r="44.2" fill="#FFFFFF"/>
<g clip-path="url(#c_wasser)"><rect x="777.5" y="216.2" width="90" height="90" fill="#3E7420"/><ellipse cx="814.5" cy="297.2" rx="16" ry="12" fill="#34521C"/><ellipse cx="847.5" cy="273.2" rx="8" ry="12" fill="#2E4A18"/><line x1="805.2" y1="295.4" x2="808.3" y2="296.5" stroke="#7A9A50" stroke-width="0.5"/><line x1="818.0" y1="294.7" x2="817.6" y2="293.0" stroke="#7A9A50" stroke-width="0.5"/><line x1="815.5" y1="292.7" x2="817.6" y2="290.9" stroke="#7A9A50" stroke-width="0.5"/><line x1="822.0" y1="298.3" x2="823.4" y2="301.1" stroke="#7A9A50" stroke-width="0.5"/><line x1="812.0" y1="289.1" x2="813.0" y2="287.0" stroke="#7A9A50" stroke-width="0.5"/><line x1="815.7" y1="290.5" x2="813.7" y2="291.4" stroke="#7A9A50" stroke-width="0.5"/><line x1="821.0" y1="293.1" x2="823.8" y2="294.6" stroke="#7A9A50" stroke-width="0.5"/><line x1="806.4" y1="288.2" x2="806.1" y2="289.9" stroke="#7A9A50" stroke-width="0.5"/><line x1="820.9" y1="287.9" x2="824.1" y2="288.9" stroke="#7A9A50" stroke-width="0.5"/><line x1="812.4" y1="296.2" x2="808.6" y2="299.2" stroke="#7A9A50" stroke-width="0.5"/><line x1="822.6" y1="288.6" x2="820.6" y2="285.3" stroke="#7A9A50" stroke-width="0.5"/><line x1="806.7" y1="301.6" x2="809.0" y2="299.0" stroke="#7A9A50" stroke-width="0.5"/><line x1="803.1" y1="288.5" x2="799.8" y2="285.5" stroke="#7A9A50" stroke-width="0.5"/><line x1="813.8" y1="288.4" x2="812.6" y2="286.3" stroke="#7A9A50" stroke-width="0.5"/><line x1="820.4" y1="301.2" x2="819.1" y2="305.5" stroke="#7A9A50" stroke-width="0.5"/><line x1="808.8" y1="291.4" x2="805.3" y2="287.0" stroke="#7A9A50" stroke-width="0.5"/><line x1="825.9" y1="289.3" x2="828.8" y2="287.6" stroke="#7A9A50" stroke-width="0.5"/><line x1="814.5" y1="289.5" x2="815.4" y2="294.4" stroke="#7A9A50" stroke-width="0.5"/><line x1="821.8" y1="299.2" x2="824.5" y2="298.4" stroke="#7A9A50" stroke-width="0.5"/><line x1="809.6" y1="287.5" x2="808.1" y2="283.2" stroke="#7A9A50" stroke-width="0.5"/><line x1="813.8" y1="288.3" x2="811.1" y2="291.2" stroke="#7A9A50" stroke-width="0.5"/><line x1="813.4" y1="294.7" x2="815.9" y2="295.9" stroke="#7A9A50" stroke-width="0.5"/><line x1="822.3" y1="294.8" x2="821.8" y2="289.9" stroke="#7A9A50" stroke-width="0.5"/><line x1="824.9" y1="290.7" x2="827.6" y2="290.2" stroke="#7A9A50" stroke-width="0.5"/><line x1="820.5" y1="295.2" x2="820.7" y2="293.5" stroke="#7A9A50" stroke-width="0.5"/><ellipse cx="832.1" cy="248.7" rx="6.1" ry="4.5" fill="#5FB226" transform="rotate(173 832.1 248.7)"/><ellipse cx="830.9" cy="247.2" rx="2.1" ry="1.3" fill="#D8F0B8" opacity="0.5"/><ellipse cx="824.4" cy="226.6" rx="5.9" ry="5.1" fill="#58A820" transform="rotate(146 824.4 226.6)"/><ellipse cx="823.2" cy="225.1" rx="2.1" ry="1.5" fill="#D8F0B8" opacity="0.5"/><ellipse cx="859.9" cy="240.6" rx="5.7" ry="4.3" fill="#7CC83A" transform="rotate(140 859.9 240.6)"/><ellipse cx="858.7" cy="239.1" rx="2.0" ry="1.3" fill="#D8F0B8" opacity="0.5"/><ellipse cx="782.6" cy="217.3" rx="5.4" ry="4.5" fill="#5FB226" transform="rotate(29 782.6 217.3)"/><ellipse cx="781.4" cy="215.8" rx="1.9" ry="1.4" fill="#D8F0B8" opacity="0.5"/><ellipse cx="784.3" cy="265.8" rx="4.7" ry="4.2" fill="#6DBE2E" transform="rotate(157 784.3 265.8)"/><ellipse cx="783.1" cy="264.3" rx="1.7" ry="1.3" fill="#D8F0B8" opacity="0.5"/><ellipse cx="836.7" cy="273.4" rx="5.0" ry="4.0" fill="#8FD150" transform="rotate(70 836.7 273.4)"/><ellipse cx="835.5" cy="271.9" rx="1.8" ry="1.2" fill="#D8F0B8" opacity="0.5"/><ellipse cx="785.2" cy="235.0" rx="5.1" ry="4.5" fill="#5FB226" transform="rotate(140 785.2 235.0)"/><ellipse cx="784.0" cy="233.5" rx="1.8" ry="1.3" fill="#D8F0B8" opacity="0.5"/><ellipse cx="846.0" cy="274.7" rx="5.4" ry="4.8" fill="#74C234" transform="rotate(122 846.0 274.7)"/><ellipse cx="844.8" cy="273.2" rx="1.9" ry="1.4" fill="#D8F0B8" opacity="0.5"/><ellipse cx="799.5" cy="271.0" rx="4.7" ry="3.5" fill="#58A820" transform="rotate(155 799.5 271.0)"/><ellipse cx="798.3" cy="269.5" rx="1.6" ry="1.1" fill="#D8F0B8" opacity="0.5"/><ellipse cx="864.2" cy="273.1" rx="5.5" ry="4.8" fill="#6DBE2E" transform="rotate(94 864.2 273.1)"/><ellipse cx="863.0" cy="271.6" rx="1.9" ry="1.4" fill="#D8F0B8" opacity="0.5"/><ellipse cx="788.8" cy="306.9" rx="5.9" ry="4.2" fill="#9ED564" transform="rotate(160 788.8 306.9)"/><ellipse cx="787.6" cy="305.4" rx="2.1" ry="1.3" fill="#D8F0B8" opacity="0.5"/><ellipse cx="792.2" cy="283.1" rx="5.4" ry="4.1" fill="#5FB226" transform="rotate(73 792.2 283.1)"/><ellipse cx="791.0" cy="281.6" rx="1.9" ry="1.2" fill="#D8F0B8" opacity="0.5"/><ellipse cx="806.1" cy="250.3" rx="5.9" ry="4.3" fill="#6DBE2E" transform="rotate(19 806.1 250.3)"/><ellipse cx="804.9" cy="248.8" rx="2.1" ry="1.3" fill="#D8F0B8" opacity="0.5"/><ellipse cx="840.4" cy="263.0" rx="4.8" ry="3.4" fill="#9ED564" transform="rotate(35 840.4 263.0)"/><ellipse cx="839.2" cy="261.5" rx="1.7" ry="1.0" fill="#D8F0B8" opacity="0.5"/><ellipse cx="815.0" cy="222.9" rx="4.7" ry="3.5" fill="#6DBE2E" transform="rotate(111 815.0 222.9)"/><ellipse cx="813.8" cy="221.4" rx="1.7" ry="1.1" fill="#D8F0B8" opacity="0.5"/><ellipse cx="827.6" cy="275.5" rx="4.9" ry="4.2" fill="#74C234" transform="rotate(27 827.6 275.5)"/><ellipse cx="826.4" cy="274.0" rx="1.7" ry="1.3" fill="#D8F0B8" opacity="0.5"/><ellipse cx="854.7" cy="290.0" rx="6.1" ry="5.0" fill="#6DBE2E" transform="rotate(38 854.7 290.0)"/><ellipse cx="853.5" cy="288.5" rx="2.1" ry="1.5" fill="#D8F0B8" opacity="0.5"/><ellipse cx="810.6" cy="219.6" rx="5.2" ry="3.9" fill="#74C234" transform="rotate(127 810.6 219.6)"/><ellipse cx="809.4" cy="218.1" rx="1.8" ry="1.2" fill="#D8F0B8" opacity="0.5"/><ellipse cx="797.1" cy="232.8" rx="6.0" ry="4.6" fill="#6DBE2E" transform="rotate(161 797.1 232.8)"/><ellipse cx="795.9" cy="231.3" rx="2.1" ry="1.4" fill="#D8F0B8" opacity="0.5"/><ellipse cx="831.5" cy="255.9" rx="6.0" ry="5.1" fill="#58A820" transform="rotate(32 831.5 255.9)"/><ellipse cx="830.3" cy="254.4" rx="2.1" ry="1.5" fill="#D8F0B8" opacity="0.5"/><ellipse cx="853.1" cy="240.7" rx="6.2" ry="4.4" fill="#6DBE2E" transform="rotate(41 853.1 240.7)"/><ellipse cx="851.9" cy="239.2" rx="2.2" ry="1.3" fill="#D8F0B8" opacity="0.5"/><ellipse cx="815.4" cy="274.6" rx="4.7" ry="3.3" fill="#74C234" transform="rotate(177 815.4 274.6)"/><ellipse cx="814.2" cy="273.1" rx="1.6" ry="1.0" fill="#D8F0B8" opacity="0.5"/><ellipse cx="813.6" cy="266.5" rx="5.6" ry="4.0" fill="#7CC83A" transform="rotate(27 813.6 266.5)"/><ellipse cx="812.4" cy="265.0" rx="1.9" ry="1.2" fill="#D8F0B8" opacity="0.5"/><ellipse cx="803.2" cy="215.7" rx="4.8" ry="4.0" fill="#74C234" transform="rotate(50 803.2 215.7)"/><ellipse cx="802.0" cy="214.2" rx="1.7" ry="1.2" fill="#D8F0B8" opacity="0.5"/><ellipse cx="851.0" cy="254.9" rx="5.1" ry="4.6" fill="#8FD150" transform="rotate(83 851.0 254.9)"/><ellipse cx="849.8" cy="253.4" rx="1.8" ry="1.4" fill="#D8F0B8" opacity="0.5"/><ellipse cx="783.6" cy="296.2" rx="5.2" ry="3.9" fill="#7CC83A" transform="rotate(123 783.6 296.2)"/><ellipse cx="782.4" cy="294.7" rx="1.8" ry="1.2" fill="#D8F0B8" opacity="0.5"/><ellipse cx="808.7" cy="242.3" rx="6.2" ry="5.5" fill="#74C234" transform="rotate(44 808.7 242.3)"/><ellipse cx="807.5" cy="240.8" rx="2.2" ry="1.7" fill="#D8F0B8" opacity="0.5"/><ellipse cx="832.8" cy="289.4" rx="4.8" ry="4.2" fill="#9ED564" transform="rotate(89 832.8 289.4)"/><ellipse cx="831.6" cy="287.9" rx="1.7" ry="1.3" fill="#D8F0B8" opacity="0.5"/><ellipse cx="792.1" cy="251.4" rx="5.6" ry="4.6" fill="#9CCF6A" transform="rotate(174 792.1 251.4)"/><ellipse cx="790.9" cy="249.9" rx="1.9" ry="1.4" fill="#D8F0B8" opacity="0.5"/><ellipse cx="792.8" cy="218.3" rx="6.0" ry="5.2" fill="#58A820" transform="rotate(147 792.8 218.3)"/><ellipse cx="791.6" cy="216.8" rx="2.1" ry="1.6" fill="#D8F0B8" opacity="0.5"/><ellipse cx="819.6" cy="250.8" rx="4.5" ry="3.6" fill="#6DBE2E" transform="rotate(153 819.6 250.8)"/><ellipse cx="818.4" cy="249.3" rx="1.6" ry="1.1" fill="#D8F0B8" opacity="0.5"/><ellipse cx="821.5" cy="279.0" rx="5.6" ry="4.6" fill="#58A820" transform="rotate(37 821.5 279.0)"/><ellipse cx="820.3" cy="277.5" rx="2.0" ry="1.4" fill="#D8F0B8" opacity="0.5"/><ellipse cx="870.3" cy="274.4" rx="6.0" ry="5.3" fill="#58A820" transform="rotate(132 870.3 274.4)"/><ellipse cx="869.1" cy="272.9" rx="2.1" ry="1.6" fill="#D8F0B8" opacity="0.5"/><ellipse cx="847.8" cy="281.9" rx="4.7" ry="3.5" fill="#8FD150" transform="rotate(40 847.8 281.9)"/><ellipse cx="846.6" cy="280.4" rx="1.7" ry="1.0" fill="#D8F0B8" opacity="0.5"/><ellipse cx="811.8" cy="247.8" rx="5.7" ry="4.0" fill="#9ED564" transform="rotate(179 811.8 247.8)"/><ellipse cx="810.6" cy="246.3" rx="2.0" ry="1.2" fill="#D8F0B8" opacity="0.5"/><ellipse cx="828.0" cy="242.1" rx="5.4" ry="3.8" fill="#9ED564" transform="rotate(92 828.0 242.1)"/><ellipse cx="826.8" cy="240.6" rx="1.9" ry="1.1" fill="#D8F0B8" opacity="0.5"/><ellipse cx="858.7" cy="259.7" rx="5.2" ry="4.3" fill="#58A820" transform="rotate(97 858.7 259.7)"/><ellipse cx="857.5" cy="258.2" rx="1.8" ry="1.3" fill="#D8F0B8" opacity="0.5"/><ellipse cx="804.6" cy="305.9" rx="5.7" ry="4.5" fill="#8FD150" transform="rotate(148 804.6 305.9)"/><ellipse cx="803.4" cy="304.4" rx="2.0" ry="1.3" fill="#D8F0B8" opacity="0.5"/><ellipse cx="801.4" cy="257.8" rx="6.1" ry="5.0" fill="#B5DC8C" transform="rotate(48 801.4 257.8)"/><ellipse cx="800.2" cy="256.3" rx="2.1" ry="1.5" fill="#D8F0B8" opacity="0.5"/><ellipse cx="850.8" cy="305.0" rx="5.0" ry="4.4" fill="#9ED564" transform="rotate(170 850.8 305.0)"/><ellipse cx="849.6" cy="303.5" rx="1.7" ry="1.3" fill="#D8F0B8" opacity="0.5"/><ellipse cx="775.7" cy="251.2" rx="5.8" ry="5.0" fill="#58A820" transform="rotate(176 775.7 251.2)"/><ellipse cx="774.5" cy="249.7" rx="2.0" ry="1.5" fill="#D8F0B8" opacity="0.5"/><ellipse cx="870.9" cy="286.8" rx="5.1" ry="4.2" fill="#58A820" transform="rotate(67 870.9 286.8)"/><ellipse cx="869.7" cy="285.3" rx="1.8" ry="1.3" fill="#D8F0B8" opacity="0.5"/><ellipse cx="837.7" cy="250.6" rx="5.9" ry="4.5" fill="#58A820" transform="rotate(139 837.7 250.6)"/><ellipse cx="836.5" cy="249.1" rx="2.1" ry="1.3" fill="#D8F0B8" opacity="0.5"/><ellipse cx="777.7" cy="257.3" rx="5.3" ry="4.0" fill="#6DBE2E" transform="rotate(125 777.7 257.3)"/><ellipse cx="776.5" cy="255.8" rx="1.9" ry="1.2" fill="#D8F0B8" opacity="0.5"/><ellipse cx="816.2" cy="286.8" rx="6.1" ry="5.2" fill="#7CC83A" transform="rotate(109 816.2 286.8)"/><ellipse cx="815.0" cy="285.3" rx="2.1" ry="1.6" fill="#D8F0B8" opacity="0.5"/><ellipse cx="814.2" cy="234.3" rx="5.8" ry="4.7" fill="#5FB226" transform="rotate(150 814.2 234.3)"/><ellipse cx="813.0" cy="232.8" rx="2.0" ry="1.4" fill="#D8F0B8" opacity="0.5"/><ellipse cx="839.0" cy="296.3" rx="5.4" ry="4.5" fill="#6DBE2E" transform="rotate(22 839.0 296.3)"/><ellipse cx="837.8" cy="294.8" rx="1.9" ry="1.4" fill="#D8F0B8" opacity="0.5"/><ellipse cx="784.7" cy="279.0" rx="5.5" ry="4.0" fill="#8FD150" transform="rotate(70 784.7 279.0)"/><ellipse cx="783.5" cy="277.5" rx="1.9" ry="1.2" fill="#D8F0B8" opacity="0.5"/><ellipse cx="799.1" cy="291.7" rx="6.0" ry="4.9" fill="#8FD150" transform="rotate(113 799.1 291.7)"/><ellipse cx="797.9" cy="290.2" rx="2.1" ry="1.5" fill="#D8F0B8" opacity="0.5"/><ellipse cx="868.4" cy="304.9" rx="6.0" ry="5.2" fill="#6DBE2E" transform="rotate(114 868.4 304.9)"/><ellipse cx="867.2" cy="303.4" rx="2.1" ry="1.6" fill="#D8F0B8" opacity="0.5"/><ellipse cx="854.6" cy="275.6" rx="5.6" ry="4.0" fill="#8FD150" transform="rotate(76 854.6 275.6)"/><ellipse cx="853.4" cy="274.1" rx="2.0" ry="1.2" fill="#D8F0B8" opacity="0.5"/><ellipse cx="817.9" cy="238.9" rx="4.9" ry="4.0" fill="#5FB226" transform="rotate(94 817.9 238.9)"/><ellipse cx="816.7" cy="237.4" rx="1.7" ry="1.2" fill="#D8F0B8" opacity="0.5"/><ellipse cx="788.4" cy="224.2" rx="4.8" ry="3.9" fill="#58A820" transform="rotate(134 788.4 224.2)"/><ellipse cx="787.2" cy="222.7" rx="1.7" ry="1.2" fill="#D8F0B8" opacity="0.5"/><ellipse cx="858.7" cy="218.7" rx="5.2" ry="4.3" fill="#9ED564" transform="rotate(165 858.7 218.7)"/><ellipse cx="857.5" cy="217.2" rx="1.8" ry="1.3" fill="#D8F0B8" opacity="0.5"/><ellipse cx="824.5" cy="219.2" rx="5.8" ry="4.6" fill="#9ED564" transform="rotate(81 824.5 219.2)"/><ellipse cx="823.3" cy="217.7" rx="2.0" ry="1.4" fill="#D8F0B8" opacity="0.5"/><ellipse cx="832.1" cy="231.1" rx="5.2" ry="4.6" fill="#8FD150" transform="rotate(30 832.1 231.1)"/><ellipse cx="830.9" cy="229.6" rx="1.8" ry="1.4" fill="#D8F0B8" opacity="0.5"/><ellipse cx="797.5" cy="223.9" rx="4.6" ry="4.0" fill="#9ED564" transform="rotate(173 797.5 223.9)"/><ellipse cx="796.3" cy="222.4" rx="1.6" ry="1.2" fill="#D8F0B8" opacity="0.5"/><ellipse cx="855.4" cy="264.2" rx="5.0" ry="4.1" fill="#9ED564" transform="rotate(138 855.4 264.2)"/><ellipse cx="854.2" cy="262.7" rx="1.8" ry="1.2" fill="#D8F0B8" opacity="0.5"/><ellipse cx="865.9" cy="217.3" rx="5.8" ry="5.1" fill="#5FB226" transform="rotate(163 865.9 217.3)"/><ellipse cx="864.7" cy="215.8" rx="2.0" ry="1.5" fill="#D8F0B8" opacity="0.5"/><ellipse cx="826.5" cy="255.0" rx="5.9" ry="5.2" fill="#5FB226" transform="rotate(129 826.5 255.0)"/><ellipse cx="825.3" cy="253.5" rx="2.1" ry="1.6" fill="#D8F0B8" opacity="0.5"/><ellipse cx="851.4" cy="223.1" rx="4.6" ry="3.6" fill="#6DBE2E" transform="rotate(20 851.4 223.1)"/><ellipse cx="850.2" cy="221.6" rx="1.6" ry="1.1" fill="#D8F0B8" opacity="0.5"/><ellipse cx="833.0" cy="266.8" rx="5.9" ry="5.2" fill="#6DBE2E" transform="rotate(55 833.0 266.8)"/><ellipse cx="831.8" cy="265.3" rx="2.1" ry="1.6" fill="#D8F0B8" opacity="0.5"/><ellipse cx="834.7" cy="242.2" rx="5.3" ry="4.2" fill="#74C234" transform="rotate(20 834.7 242.2)"/><ellipse cx="833.5" cy="240.7" rx="1.9" ry="1.3" fill="#D8F0B8" opacity="0.5"/><ellipse cx="785.2" cy="249.5" rx="5.7" ry="4.4" fill="#7CC83A" transform="rotate(34 785.2 249.5)"/><ellipse cx="784.0" cy="248.0" rx="2.0" ry="1.3" fill="#D8F0B8" opacity="0.5"/><ellipse cx="787.9" cy="274.3" rx="5.6" ry="4.8" fill="#74C234" transform="rotate(47 787.9 274.3)"/><ellipse cx="786.7" cy="272.8" rx="2.0" ry="1.4" fill="#D8F0B8" opacity="0.5"/><ellipse cx="862.5" cy="225.8" rx="5.9" ry="4.5" fill="#7CC83A" transform="rotate(41 862.5 225.8)"/><ellipse cx="861.3" cy="224.3" rx="2.1" ry="1.3" fill="#D8F0B8" opacity="0.5"/><ellipse cx="859.8" cy="281.6" rx="6.0" ry="4.5" fill="#9ED564" transform="rotate(57 859.8 281.6)"/><ellipse cx="858.6" cy="280.1" rx="2.1" ry="1.3" fill="#D8F0B8" opacity="0.5"/><ellipse cx="832.7" cy="281.9" rx="4.9" ry="4.3" fill="#7CC83A" transform="rotate(41 832.7 281.9)"/><ellipse cx="831.5" cy="280.4" rx="1.7" ry="1.3" fill="#D8F0B8" opacity="0.5"/><ellipse cx="857.8" cy="231.0" rx="6.0" ry="5.0" fill="#9ED564" transform="rotate(16 857.8 231.0)"/><ellipse cx="856.6" cy="229.5" rx="2.1" ry="1.5" fill="#D8F0B8" opacity="0.5"/><ellipse cx="850.0" cy="251.3" rx="5.6" ry="4.5" fill="#9ED564" transform="rotate(113 850.0 251.3)"/><ellipse cx="848.8" cy="249.8" rx="2.0" ry="1.3" fill="#D8F0B8" opacity="0.5"/><ellipse cx="861.9" cy="289.0" rx="4.9" ry="3.8" fill="#8FD150" transform="rotate(80 861.9 289.0)"/><ellipse cx="860.7" cy="287.5" rx="1.7" ry="1.1" fill="#D8F0B8" opacity="0.5"/><ellipse cx="806.2" cy="262.8" rx="5.7" ry="4.8" fill="#B5DC8C" transform="rotate(123 806.2 262.8)"/><ellipse cx="805.0" cy="261.3" rx="2.0" ry="1.4" fill="#D8F0B8" opacity="0.5"/><ellipse cx="836.9" cy="307.0" rx="5.9" ry="5.3" fill="#5FB226" transform="rotate(41 836.9 307.0)"/><ellipse cx="835.7" cy="305.5" rx="2.1" ry="1.6" fill="#D8F0B8" opacity="0.5"/><ellipse cx="846.1" cy="290.0" rx="5.4" ry="3.9" fill="#5FB226" transform="rotate(103 846.1 290.0)"/><ellipse cx="844.9" cy="288.5" rx="1.9" ry="1.2" fill="#D8F0B8" opacity="0.5"/><ellipse cx="806.4" cy="258.3" rx="6.0" ry="5.3" fill="#8FD150" transform="rotate(126 806.4 258.3)"/><ellipse cx="805.2" cy="256.8" rx="2.1" ry="1.6" fill="#D8F0B8" opacity="0.5"/><ellipse cx="842.4" cy="242.8" rx="6.1" ry="4.9" fill="#6DBE2E" transform="rotate(141 842.4 242.8)"/><ellipse cx="841.2" cy="241.3" rx="2.1" ry="1.5" fill="#D8F0B8" opacity="0.5"/><ellipse cx="844.6" cy="225.1" rx="5.3" ry="4.8" fill="#5FB226" transform="rotate(41 844.6 225.1)"/><ellipse cx="843.4" cy="223.6" rx="1.9" ry="1.4" fill="#D8F0B8" opacity="0.5"/><ellipse cx="868.0" cy="294.8" rx="5.1" ry="3.7" fill="#8FD150" transform="rotate(28 868.0 294.8)"/><ellipse cx="866.8" cy="293.3" rx="1.8" ry="1.1" fill="#D8F0B8" opacity="0.5"/><ellipse cx="823.1" cy="265.5" rx="6.2" ry="4.5" fill="#58A820" transform="rotate(72 823.1 265.5)"/><ellipse cx="821.9" cy="264.0" rx="2.2" ry="1.3" fill="#D8F0B8" opacity="0.5"/><ellipse cx="849.7" cy="218.1" rx="6.1" ry="4.8" fill="#58A820" transform="rotate(45 849.7 218.1)"/><ellipse cx="848.5" cy="216.6" rx="2.2" ry="1.4" fill="#D8F0B8" opacity="0.5"/><ellipse cx="794.6" cy="298.4" rx="5.0" ry="3.6" fill="#7CC83A" transform="rotate(117 794.6 298.4)"/><ellipse cx="793.4" cy="296.9" rx="1.8" ry="1.1" fill="#D8F0B8" opacity="0.5"/><ellipse cx="791.4" cy="258.2" rx="4.7" ry="3.6" fill="#58A820" transform="rotate(175 791.4 258.2)"/><ellipse cx="790.2" cy="256.7" rx="1.6" ry="1.1" fill="#D8F0B8" opacity="0.5"/><ellipse cx="774.3" cy="299.7" rx="5.7" ry="4.5" fill="#74C234" transform="rotate(50 774.3 299.7)"/><ellipse cx="773.1" cy="298.2" rx="2.0" ry="1.4" fill="#D8F0B8" opacity="0.5"/><ellipse cx="842.6" cy="258.6" rx="5.4" ry="4.7" fill="#74C234" transform="rotate(44 842.6 258.6)"/><ellipse cx="841.4" cy="257.1" rx="1.9" ry="1.4" fill="#D8F0B8" opacity="0.5"/><ellipse cx="801.1" cy="298.7" rx="5.1" ry="4.2" fill="#5FB226" transform="rotate(75 801.1 298.7)"/><ellipse cx="799.9" cy="297.2" rx="1.8" ry="1.3" fill="#D8F0B8" opacity="0.5"/><ellipse cx="851.4" cy="297.3" rx="6.1" ry="4.6" fill="#58A820" transform="rotate(16 851.4 297.3)"/><ellipse cx="850.2" cy="295.8" rx="2.2" ry="1.4" fill="#D8F0B8" opacity="0.5"/><ellipse cx="859.4" cy="303.8" rx="5.2" ry="3.9" fill="#6DBE2E" transform="rotate(52 859.4 303.8)"/><ellipse cx="858.2" cy="302.3" rx="1.8" ry="1.2" fill="#D8F0B8" opacity="0.5"/><ellipse cx="790.5" cy="240.4" rx="5.4" ry="4.5" fill="#9ED564" transform="rotate(60 790.5 240.4)"/><ellipse cx="789.3" cy="238.9" rx="1.9" ry="1.3" fill="#D8F0B8" opacity="0.5"/><ellipse cx="860.3" cy="297.2" rx="5.6" ry="4.7" fill="#6DBE2E" transform="rotate(49 860.3 297.2)"/><ellipse cx="859.1" cy="295.7" rx="2.0" ry="1.4" fill="#D8F0B8" opacity="0.5"/><ellipse cx="866.5" cy="264.3" rx="5.7" ry="4.8" fill="#6DBE2E" transform="rotate(68 866.5 264.3)"/><ellipse cx="865.3" cy="262.8" rx="2.0" ry="1.4" fill="#D8F0B8" opacity="0.5"/><ellipse cx="831.3" cy="295.1" rx="4.6" ry="3.6" fill="#5FB226" transform="rotate(80 831.3 295.1)"/><ellipse cx="830.1" cy="293.6" rx="1.6" ry="1.1" fill="#D8F0B8" opacity="0.5"/><ellipse cx="805.6" cy="225.8" rx="6.0" ry="5.1" fill="#58A820" transform="rotate(106 805.6 225.8)"/><ellipse cx="804.4" cy="224.3" rx="2.1" ry="1.5" fill="#D8F0B8" opacity="0.5"/><ellipse cx="811.7" cy="281.8" rx="5.1" ry="4.3" fill="#58A820" transform="rotate(46 811.7 281.8)"/><ellipse cx="810.5" cy="280.3" rx="1.8" ry="1.3" fill="#D8F0B8" opacity="0.5"/><ellipse cx="850.8" cy="263.6" rx="4.5" ry="3.3" fill="#7CC83A" transform="rotate(57 850.8 263.6)"/><ellipse cx="849.6" cy="262.1" rx="1.6" ry="1.0" fill="#D8F0B8" opacity="0.5"/><ellipse cx="804.7" cy="233.4" rx="4.7" ry="4.1" fill="#5FB226" transform="rotate(149 804.7 233.4)"/><ellipse cx="803.5" cy="231.9" rx="1.6" ry="1.2" fill="#D8F0B8" opacity="0.5"/><ellipse cx="865.4" cy="280.4" rx="6.0" ry="4.8" fill="#5FB226" transform="rotate(172 865.4 280.4)"/><ellipse cx="864.2" cy="278.9" rx="2.1" ry="1.4" fill="#D8F0B8" opacity="0.5"/><ellipse cx="800.9" cy="303.5" rx="6.1" ry="4.8" fill="#74C234" transform="rotate(6 800.9 303.5)"/><ellipse cx="799.7" cy="302.0" rx="2.2" ry="1.4" fill="#D8F0B8" opacity="0.5"/><ellipse cx="828.2" cy="287.8" rx="4.6" ry="4.0" fill="#8FD150" transform="rotate(28 828.2 287.8)"/><ellipse cx="827.0" cy="286.3" rx="1.6" ry="1.2" fill="#D8F0B8" opacity="0.5"/><ellipse cx="778.3" cy="233.3" rx="5.9" ry="5.2" fill="#58A820" transform="rotate(37 778.3 233.3)"/><ellipse cx="777.1" cy="231.8" rx="2.1" ry="1.6" fill="#D8F0B8" opacity="0.5"/><ellipse cx="778.8" cy="267.4" rx="5.2" ry="4.6" fill="#6DBE2E" transform="rotate(6 778.8 267.4)"/><ellipse cx="777.6" cy="265.9" rx="1.8" ry="1.4" fill="#D8F0B8" opacity="0.5"/><ellipse cx="782.7" cy="305.7" rx="6.2" ry="5.6" fill="#58A820" transform="rotate(136 782.7 305.7)"/><ellipse cx="781.5" cy="304.2" rx="2.2" ry="1.7" fill="#D8F0B8" opacity="0.5"/><ellipse cx="867.6" cy="230.9" rx="5.6" ry="4.1" fill="#74C234" transform="rotate(93 867.6 230.9)"/><ellipse cx="866.4" cy="229.4" rx="2.0" ry="1.2" fill="#D8F0B8" opacity="0.5"/><ellipse cx="793.9" cy="264.1" rx="5.4" ry="4.2" fill="#5FB226" transform="rotate(139 793.9 264.1)"/><ellipse cx="792.7" cy="262.6" rx="1.9" ry="1.3" fill="#D8F0B8" opacity="0.5"/><ellipse cx="850.6" cy="235.4" rx="4.7" ry="3.5" fill="#7CC83A" transform="rotate(28 850.6 235.4)"/><ellipse cx="849.4" cy="233.9" rx="1.7" ry="1.0" fill="#D8F0B8" opacity="0.5"/><ellipse cx="788.6" cy="291.3" rx="5.5" ry="4.7" fill="#7CC83A" transform="rotate(79 788.6 291.3)"/><ellipse cx="787.4" cy="289.8" rx="1.9" ry="1.4" fill="#D8F0B8" opacity="0.5"/><ellipse cx="838.4" cy="281.1" rx="5.4" ry="4.4" fill="#58A820" transform="rotate(127 838.4 281.1)"/><ellipse cx="837.2" cy="279.6" rx="1.9" ry="1.3" fill="#D8F0B8" opacity="0.5"/><ellipse cx="870.1" cy="223.0" rx="5.2" ry="4.2" fill="#6DBE2E" transform="rotate(14 870.1 223.0)"/><ellipse cx="868.9" cy="221.5" rx="1.8" ry="1.3" fill="#D8F0B8" opacity="0.5"/><ellipse cx="805.9" cy="278.8" rx="4.9" ry="3.6" fill="#9ED564" transform="rotate(1 805.9 278.8)"/><ellipse cx="804.7" cy="277.3" rx="1.7" ry="1.1" fill="#D8F0B8" opacity="0.5"/><ellipse cx="872.3" cy="242.2" rx="4.9" ry="4.2" fill="#7CC83A" transform="rotate(23 872.3 242.2)"/><ellipse cx="871.1" cy="240.7" rx="1.7" ry="1.3" fill="#D8F0B8" opacity="0.5"/><ellipse cx="809.9" cy="287.0" rx="5.9" ry="4.8" fill="#8FD150" transform="rotate(85 809.9 287.0)"/><ellipse cx="808.7" cy="285.5" rx="2.1" ry="1.5" fill="#D8F0B8" opacity="0.5"/><ellipse cx="773.8" cy="215.8" rx="5.3" ry="3.8" fill="#74C234" transform="rotate(12 773.8 215.8)"/><ellipse cx="772.6" cy="214.3" rx="1.9" ry="1.1" fill="#D8F0B8" opacity="0.5"/><ellipse cx="782.5" cy="290.4" rx="5.3" ry="4.2" fill="#6DBE2E" transform="rotate(154 782.5 290.4)"/><ellipse cx="781.3" cy="288.9" rx="1.8" ry="1.3" fill="#D8F0B8" opacity="0.5"/><ellipse cx="779.3" cy="226.6" rx="6.1" ry="4.5" fill="#5FB226" transform="rotate(21 779.3 226.6)"/><ellipse cx="778.1" cy="225.1" rx="2.1" ry="1.3" fill="#D8F0B8" opacity="0.5"/><ellipse cx="828.3" cy="215.0" rx="5.8" ry="4.9" fill="#5FB226" transform="rotate(166 828.3 215.0)"/><ellipse cx="827.1" cy="213.5" rx="2.0" ry="1.5" fill="#D8F0B8" opacity="0.5"/><ellipse cx="818.6" cy="258.1" rx="4.6" ry="3.9" fill="#6DBE2E" transform="rotate(131 818.6 258.1)"/><ellipse cx="817.4" cy="256.6" rx="1.6" ry="1.2" fill="#D8F0B8" opacity="0.5"/><ellipse cx="809.9" cy="271.6" rx="5.8" ry="4.6" fill="#74C234" transform="rotate(39 809.9 271.6)"/><ellipse cx="808.7" cy="270.1" rx="2.0" ry="1.4" fill="#D8F0B8" opacity="0.5"/><ellipse cx="868.9" cy="256.3" rx="4.8" ry="3.8" fill="#6DBE2E" transform="rotate(180 868.9 256.3)"/><ellipse cx="867.7" cy="254.8" rx="1.7" ry="1.1" fill="#D8F0B8" opacity="0.5"/><ellipse cx="820.4" cy="231.0" rx="5.4" ry="4.8" fill="#58A820" transform="rotate(11 820.4 231.0)"/><ellipse cx="819.2" cy="229.5" rx="1.9" ry="1.4" fill="#D8F0B8" opacity="0.5"/><ellipse cx="857.4" cy="251.0" rx="5.3" ry="4.8" fill="#74C234" transform="rotate(165 857.4 251.0)"/><ellipse cx="856.2" cy="249.5" rx="1.9" ry="1.4" fill="#D8F0B8" opacity="0.5"/><ellipse cx="842.0" cy="231.4" rx="5.8" ry="5.0" fill="#9ED564" transform="rotate(14 842.0 231.4)"/><ellipse cx="840.8" cy="229.9" rx="2.0" ry="1.5" fill="#D8F0B8" opacity="0.5"/><ellipse cx="798.6" cy="239.4" rx="5.0" ry="3.5" fill="#6DBE2E" transform="rotate(26 798.6 239.4)"/><ellipse cx="797.4" cy="237.9" rx="1.7" ry="1.1" fill="#D8F0B8" opacity="0.5"/><ellipse cx="844.8" cy="306.3" rx="5.4" ry="4.6" fill="#7CC83A" transform="rotate(130 844.8 306.3)"/><ellipse cx="843.6" cy="304.8" rx="1.9" ry="1.4" fill="#D8F0B8" opacity="0.5"/><ellipse cx="781.4" cy="243.0" rx="5.2" ry="3.9" fill="#7CC83A" transform="rotate(110 781.4 243.0)"/><ellipse cx="780.2" cy="241.5" rx="1.8" ry="1.2" fill="#D8F0B8" opacity="0.5"/><ellipse cx="778.5" cy="282.3" rx="4.9" ry="3.9" fill="#7CC83A" transform="rotate(119 778.5 282.3)"/><ellipse cx="777.3" cy="280.8" rx="1.7" ry="1.2" fill="#D8F0B8" opacity="0.5"/><ellipse cx="780.1" cy="272.2" rx="4.5" ry="3.4" fill="#8FD150" transform="rotate(25 780.1 272.2)"/><ellipse cx="778.9" cy="270.7" rx="1.6" ry="1.0" fill="#D8F0B8" opacity="0.5"/><ellipse cx="835.8" cy="227.0" rx="4.8" ry="3.5" fill="#74C234" transform="rotate(73 835.8 227.0)"/><ellipse cx="834.6" cy="225.5" rx="1.7" ry="1.0" fill="#D8F0B8" opacity="0.5"/><ellipse cx="866.6" cy="250.7" rx="6.2" ry="4.7" fill="#5FB226" transform="rotate(169 866.6 250.7)"/><ellipse cx="865.4" cy="249.2" rx="2.2" ry="1.4" fill="#D8F0B8" opacity="0.5"/><ellipse cx="839.3" cy="216.4" rx="5.6" ry="4.2" fill="#8FD150" transform="rotate(106 839.3 216.4)"/><ellipse cx="838.1" cy="214.9" rx="2.0" ry="1.3" fill="#D8F0B8" opacity="0.5"/></g>
<circle cx="822.5" cy="261.2" r="44.2" fill="none" stroke="#7F7F7F" stroke-width="6.6"/>
<circle cx="508.4" cy="401.9" r="44.2" fill="#FFFFFF"/>
<g><linearGradient id="kelpL" x1="0" y1="0" x2="0" y2="1"><stop offset="0" stop-color="#B8662C"/><stop offset="0.5" stop-color="#B27A3A"/><stop offset="1" stop-color="#A89A50"/></linearGradient><linearGradient id="kelpR" x1="0" y1="0" x2="0" y2="1"><stop offset="0" stop-color="#B5622C"/><stop offset="1" stop-color="#B0582A"/></linearGradient><path d="M497.0,377.5 L495.0,385.0 L493.6,397.5 L493.1,414.0 L496.0,425.5 L498.5,430.0 L501.0,425.5 L503.4,414.0 L505.1,397.5 L506.5,379.0 Z" fill="url(#kelpL)"/><path d="M496.5,378.0 C498.0,373.0 505.0,373.0 512.5,373.5 C518.0,374.0 521.0,376.0 521.0,379.0 L521.5,389.3 L522.3,405.8 L523.2,415.6 Q524.0,419.0 527.0,420.5 L519.0,419.7 L514.9,414.0 L513.3,397.5 L511.6,379.5 Q509.5,377.0 506.5,379.0 Z" fill="url(#kelpR)"/><circle cx="500.9" cy="398.4" r="0.5" fill="#8A5020" opacity="0.7"/><circle cx="494.6" cy="387.6" r="0.5" fill="#C8A860" opacity="0.7"/><circle cx="495.0" cy="401.6" r="0.6" fill="#8A5020" opacity="0.7"/><circle cx="495.0" cy="420.6" r="0.7" fill="#D09050" opacity="0.7"/><circle cx="496.9" cy="421.0" r="0.8" fill="#D09050" opacity="0.7"/><circle cx="495.3" cy="382.0" r="0.6" fill="#C8A860" opacity="0.7"/><circle cx="500.9" cy="410.4" r="0.7" fill="#C8A860" opacity="0.7"/><circle cx="494.5" cy="411.2" r="0.8" fill="#8A5020" opacity="0.7"/><circle cx="502.0" cy="389.8" r="0.5" fill="#C8A860" opacity="0.7"/><circle cx="496.7" cy="386.7" r="0.8" fill="#D09050" opacity="0.7"/><circle cx="501.1" cy="391.5" r="0.9" fill="#D09050" opacity="0.7"/><circle cx="495.8" cy="384.9" r="0.7" fill="#D09050" opacity="0.7"/><circle cx="502.6" cy="407.7" r="0.5" fill="#D09050" opacity="0.7"/><circle cx="501.2" cy="384.2" r="0.6" fill="#C8A860" opacity="0.7"/><circle cx="496.2" cy="385.9" r="0.8" fill="#8A5020" opacity="0.7"/><circle cx="502.7" cy="423.8" r="0.6" fill="#C8A860" opacity="0.7"/><circle cx="501.9" cy="417.9" r="0.7" fill="#C8A860" opacity="0.7"/><circle cx="501.9" cy="416.8" r="0.7" fill="#D09050" opacity="0.7"/><circle cx="499.2" cy="400.7" r="0.6" fill="#D09050" opacity="0.7"/><circle cx="497.5" cy="404.2" r="0.9" fill="#C8A860" opacity="0.7"/><circle cx="496.8" cy="401.6" r="0.7" fill="#D09050" opacity="0.7"/><circle cx="498.3" cy="405.9" r="0.4" fill="#D09050" opacity="0.7"/><circle cx="496.8" cy="413.7" r="0.8" fill="#D09050" opacity="0.7"/><circle cx="499.2" cy="390.2" r="0.9" fill="#C8A860" opacity="0.7"/><circle cx="499.4" cy="403.5" r="0.5" fill="#C8A860" opacity="0.7"/><circle cx="494.3" cy="390.6" r="0.6" fill="#C8A860" opacity="0.7"/><circle cx="496.1" cy="399.3" r="0.6" fill="#D09050" opacity="0.7"/><circle cx="498.6" cy="382.9" r="0.6" fill="#C8A860" opacity="0.7"/><circle cx="496.1" cy="389.5" r="0.8" fill="#C8A860" opacity="0.7"/><circle cx="501.4" cy="390.5" r="0.6" fill="#8A5020" opacity="0.7"/><circle cx="496.7" cy="381.7" r="0.6" fill="#8A5020" opacity="0.7"/><circle cx="498.4" cy="406.4" r="0.8" fill="#D09050" opacity="0.7"/><circle cx="502.0" cy="389.3" r="0.6" fill="#8A5020" opacity="0.7"/><circle cx="501.2" cy="412.2" r="0.5" fill="#8A5020" opacity="0.7"/><circle cx="497.7" cy="391.1" r="0.6" fill="#C8A860" opacity="0.7"/><circle cx="495.3" cy="394.2" r="0.6" fill="#D09050" opacity="0.7"/><circle cx="496.9" cy="386.0" r="0.5" fill="#C8A860" opacity="0.7"/><circle cx="495.8" cy="386.1" r="0.5" fill="#C8A860" opacity="0.7"/><circle cx="502.5" cy="393.9" r="0.8" fill="#8A5020" opacity="0.7"/><circle cx="498.3" cy="387.7" r="0.8" fill="#D09050" opacity="0.7"/><circle cx="499.1" cy="384.0" r="0.5" fill="#C8A860" opacity="0.7"/><circle cx="498.0" cy="405.8" r="0.5" fill="#8A5020" opacity="0.7"/><circle cx="497.9" cy="387.4" r="0.8" fill="#C8A860" opacity="0.7"/><circle cx="497.7" cy="413.3" r="0.6" fill="#C8A860" opacity="0.7"/><circle cx="494.4" cy="411.2" r="0.5" fill="#C8A860" opacity="0.7"/><circle cx="500.7" cy="406.5" r="0.5" fill="#8A5020" opacity="0.7"/><circle cx="501.1" cy="417.2" r="0.5" fill="#D09050" opacity="0.7"/><circle cx="499.9" cy="404.9" r="0.6" fill="#8A5020" opacity="0.7"/><circle cx="499.7" cy="402.2" r="0.8" fill="#8A5020" opacity="0.7"/><circle cx="499.1" cy="384.5" r="0.5" fill="#D09050" opacity="0.7"/><circle cx="503.9" cy="420.2" r="0.4" fill="#8A5020" opacity="0.7"/><circle cx="495.2" cy="423.4" r="0.5" fill="#D09050" opacity="0.7"/><circle cx="496.4" cy="405.4" r="0.6" fill="#8A5020" opacity="0.7"/><circle cx="499.2" cy="403.8" r="0.6" fill="#D09050" opacity="0.7"/><circle cx="501.8" cy="400.6" r="0.9" fill="#8A5020" opacity="0.7"/><circle cx="500.6" cy="399.8" r="0.7" fill="#8A5020" opacity="0.7"/><circle cx="501.8" cy="416.9" r="0.7" fill="#D09050" opacity="0.7"/><circle cx="495.6" cy="422.0" r="0.9" fill="#C8A860" opacity="0.7"/><circle cx="498.4" cy="423.7" r="0.4" fill="#D09050" opacity="0.7"/><circle cx="502.7" cy="410.2" r="0.4" fill="#8A5020" opacity="0.7"/><circle cx="514.5" cy="379.2" r="0.6" fill="#D08050" opacity="0.7"/><circle cx="515.3" cy="405.7" r="0.7" fill="#8A3A18" opacity="0.7"/><circle cx="513.8" cy="399.1" r="0.5" fill="#D08050" opacity="0.7"/><circle cx="519.9" cy="387.0" r="0.8" fill="#D08050" opacity="0.7"/><circle cx="519.8" cy="401.9" r="0.7" fill="#D08050" opacity="0.7"/><circle cx="515.3" cy="382.2" r="0.9" fill="#D08050" opacity="0.7"/><circle cx="519.7" cy="392.9" r="0.9" fill="#D08050" opacity="0.7"/><circle cx="514.1" cy="404.6" r="0.5" fill="#8A3A18" opacity="0.7"/><circle cx="516.3" cy="415.4" r="0.6" fill="#D08050" opacity="0.7"/><circle cx="513.0" cy="416.9" r="0.5" fill="#D08050" opacity="0.7"/><circle cx="515.9" cy="388.8" r="0.5" fill="#D08050" opacity="0.7"/><circle cx="514.3" cy="413.8" r="0.8" fill="#8A3A18" opacity="0.7"/><circle cx="513.2" cy="387.3" r="0.9" fill="#D08050" opacity="0.7"/><circle cx="518.4" cy="397.9" r="0.6" fill="#8A3A18" opacity="0.7"/><circle cx="517.3" cy="381.6" r="0.5" fill="#8A3A18" opacity="0.7"/><circle cx="515.1" cy="403.5" r="0.5" fill="#8A3A18" opacity="0.7"/><circle cx="518.3" cy="412.0" r="0.5" fill="#8A3A18" opacity="0.7"/><circle cx="518.7" cy="406.8" r="0.5" fill="#D08050" opacity="0.7"/><circle cx="515.5" cy="404.8" r="0.7" fill="#8A3A18" opacity="0.7"/><circle cx="518.4" cy="407.2" r="0.6" fill="#8A3A18" opacity="0.7"/><circle cx="519.0" cy="392.8" r="0.6" fill="#8A3A18" opacity="0.7"/><circle cx="519.6" cy="403.8" r="0.5" fill="#8A3A18" opacity="0.7"/><circle cx="517.7" cy="405.2" r="0.7" fill="#8A3A18" opacity="0.7"/><circle cx="515.1" cy="411.1" r="0.5" fill="#8A3A18" opacity="0.7"/><circle cx="513.1" cy="412.8" r="0.6" fill="#D08050" opacity="0.7"/><circle cx="517.3" cy="411.8" r="0.5" fill="#D08050" opacity="0.7"/><circle cx="517.8" cy="384.0" r="0.6" fill="#8A3A18" opacity="0.7"/><circle cx="513.2" cy="406.3" r="0.4" fill="#D08050" opacity="0.7"/><circle cx="518.4" cy="390.4" r="0.8" fill="#8A3A18" opacity="0.7"/><circle cx="520.0" cy="416.6" r="0.6" fill="#D08050" opacity="0.7"/><path d="M498.5,429.0 L498.5,433.0 M498.5,433.0 L495.5,435.0 M498.5,433.0 L501.5,435.0" stroke="#A07838" stroke-width="0.8"/></g>
<circle cx="508.4" cy="401.9" r="44.2" fill="none" stroke="#7F7F7F" stroke-width="6.6"/>
<circle cx="850.9" cy="407.5" r="44.2" fill="#FFFFFF"/>
<g clip-path="url(#c_mikro)"><rect x="805.9" y="362.5" width="90" height="90" fill="#A6D6C6"/><circle cx="833.6" cy="377.9" r="9" fill="#C2D65C" opacity="0.75"/><circle cx="852.5" cy="384.5" r="9" fill="#C2D65C" opacity="0.75"/><circle cx="866.4" cy="387.8" r="9" fill="#C2D65C" opacity="0.75"/><circle cx="878.8" cy="381.2" r="9" fill="#C2D65C" opacity="0.75"/><circle cx="857.4" cy="370.5" r="9" fill="#C2D65C" opacity="0.75"/><circle cx="833.6" cy="395.2" r="9" fill="#C2D65C" opacity="0.75"/><circle cx="853.3" cy="401.0" r="9" fill="#C2D65C" opacity="0.75"/><circle cx="872.2" cy="399.3" r="9" fill="#C2D65C" opacity="0.75"/><circle cx="886.2" cy="411.6" r="9" fill="#C2D65C" opacity="0.75"/><circle cx="870.6" cy="415.8" r="9" fill="#C2D65C" opacity="0.75"/><circle cx="831.1" cy="415.0" r="9" fill="#C2D65C" opacity="0.75"/><circle cx="813.0" cy="415.8" r="9" fill="#C2D65C" opacity="0.75"/><circle cx="852.5" cy="428.1" r="9" fill="#C2D65C" opacity="0.75"/><circle cx="868.9" cy="435.5" r="9" fill="#C2D65C" opacity="0.75"/><circle cx="882.9" cy="427.3" r="9" fill="#C2D65C" opacity="0.75"/><circle cx="840.1" cy="442.1" r="9" fill="#C2D65C" opacity="0.75"/><circle cx="813.0" cy="397.7" r="9" fill="#C2D65C" opacity="0.75"/><circle cx="818.9" cy="381.5" r="9" fill="#C2D65C" opacity="0.75"/><circle cx="822.9" cy="433.5" r="9" fill="#C2D65C" opacity="0.75"/><circle cx="888.9" cy="393.5" r="9" fill="#C2D65C" opacity="0.75"/><circle cx="833.6" cy="377.9" r="7.7" fill="#3A9A36"/><circle cx="832.6" cy="377.6" r="0.9" fill="#2E8430"/><circle cx="833.8" cy="379.3" r="1.7" fill="#5AAE48"/><circle cx="829.9" cy="378.3" r="1.7" fill="#2E8430"/><circle cx="832.6" cy="375.0" r="1.6" fill="#2E8430"/><circle cx="836.1" cy="373.3" r="1.0" fill="#2E8430"/><circle cx="852.5" cy="384.5" r="7.7" fill="#3A9A36"/><circle cx="852.3" cy="379.8" r="1.0" fill="#5AAE48"/><circle cx="852.1" cy="385.6" r="0.9" fill="#2E8430"/><circle cx="855.0" cy="383.7" r="1.3" fill="#5AAE48"/><circle cx="848.7" cy="384.9" r="1.6" fill="#5AAE48"/><circle cx="851.3" cy="386.0" r="1.1" fill="#5AAE48"/><circle cx="866.4" cy="387.8" r="7.7" fill="#3A9A36"/><circle cx="870.8" cy="385.1" r="1.0" fill="#6DBA55"/><circle cx="864.8" cy="388.6" r="1.8" fill="#6DBA55"/><circle cx="866.8" cy="386.0" r="1.5" fill="#2E8430"/><circle cx="861.8" cy="385.6" r="1.1" fill="#2E8430"/><circle cx="864.3" cy="385.4" r="1.2" fill="#5AAE48"/><circle cx="878.8" cy="381.2" r="7.7" fill="#3A9A36"/><circle cx="880.1" cy="379.2" r="1.6" fill="#2E8430"/><circle cx="878.7" cy="385.9" r="1.4" fill="#5AAE48"/><circle cx="874.2" cy="379.3" r="1.5" fill="#6DBA55"/><circle cx="877.5" cy="385.9" r="1.6" fill="#5AAE48"/><circle cx="876.0" cy="382.4" r="1.6" fill="#5AAE48"/><circle cx="857.4" cy="370.5" r="7.7" fill="#3A9A36"/><circle cx="859.2" cy="370.0" r="0.9" fill="#2E8430"/><circle cx="859.8" cy="374.9" r="1.1" fill="#5AAE48"/><circle cx="859.2" cy="368.5" r="0.9" fill="#6DBA55"/><circle cx="856.5" cy="365.8" r="1.0" fill="#5AAE48"/><circle cx="854.5" cy="369.8" r="1.3" fill="#6DBA55"/><circle cx="833.6" cy="395.2" r="7.7" fill="#3A9A36"/><circle cx="838.8" cy="395.7" r="1.0" fill="#6DBA55"/><circle cx="836.6" cy="392.7" r="0.9" fill="#2E8430"/><circle cx="834.5" cy="399.6" r="1.1" fill="#5AAE48"/><circle cx="829.3" cy="392.3" r="1.0" fill="#2E8430"/><circle cx="831.4" cy="397.5" r="0.9" fill="#5AAE48"/><circle cx="853.3" cy="401.0" r="7.7" fill="#3A9A36"/><circle cx="854.6" cy="403.0" r="1.1" fill="#5AAE48"/><circle cx="853.7" cy="399.8" r="1.4" fill="#6DBA55"/><circle cx="853.9" cy="402.8" r="1.1" fill="#6DBA55"/><circle cx="853.2" cy="402.8" r="0.8" fill="#2E8430"/><circle cx="853.7" cy="403.1" r="1.7" fill="#2E8430"/><circle cx="872.2" cy="399.3" r="7.7" fill="#3A9A36"/><circle cx="873.7" cy="400.6" r="0.8" fill="#2E8430"/><circle cx="872.2" cy="396.3" r="1.3" fill="#6DBA55"/><circle cx="874.1" cy="399.2" r="0.8" fill="#2E8430"/><circle cx="867.8" cy="402.0" r="1.2" fill="#2E8430"/><circle cx="868.9" cy="401.2" r="1.6" fill="#5AAE48"/><circle cx="886.2" cy="411.6" r="7.7" fill="#3A9A36"/><circle cx="883.4" cy="412.7" r="1.6" fill="#2E8430"/><circle cx="885.5" cy="416.3" r="1.7" fill="#2E8430"/><circle cx="886.5" cy="412.8" r="1.0" fill="#5AAE48"/><circle cx="890.7" cy="408.4" r="1.3" fill="#6DBA55"/><circle cx="888.5" cy="412.9" r="1.7" fill="#6DBA55"/><circle cx="870.6" cy="415.8" r="7.7" fill="#3A9A36"/><circle cx="874.4" cy="416.1" r="1.4" fill="#6DBA55"/><circle cx="869.0" cy="416.1" r="1.1" fill="#5AAE48"/><circle cx="867.2" cy="411.9" r="0.9" fill="#2E8430"/><circle cx="868.4" cy="412.5" r="0.8" fill="#2E8430"/><circle cx="870.0" cy="412.5" r="1.0" fill="#6DBA55"/><circle cx="831.1" cy="415.0" r="7.7" fill="#3A9A36"/><circle cx="833.9" cy="417.9" r="1.1" fill="#2E8430"/><circle cx="829.9" cy="418.2" r="1.6" fill="#6DBA55"/><circle cx="834.4" cy="417.1" r="1.8" fill="#2E8430"/><circle cx="835.3" cy="415.7" r="1.2" fill="#6DBA55"/><circle cx="828.2" cy="412.4" r="1.5" fill="#6DBA55"/><circle cx="813.0" cy="415.8" r="7.7" fill="#3A9A36"/><circle cx="815.3" cy="417.9" r="1.3" fill="#2E8430"/><circle cx="810.8" cy="417.8" r="1.0" fill="#6DBA55"/><circle cx="811.3" cy="419.3" r="1.6" fill="#2E8430"/><circle cx="809.5" cy="415.4" r="1.6" fill="#5AAE48"/><circle cx="815.9" cy="416.6" r="1.7" fill="#6DBA55"/><circle cx="852.5" cy="428.1" r="7.7" fill="#3A9A36"/><circle cx="854.1" cy="430.4" r="1.4" fill="#2E8430"/><circle cx="854.4" cy="430.8" r="1.2" fill="#2E8430"/><circle cx="854.2" cy="426.9" r="1.4" fill="#2E8430"/><circle cx="855.8" cy="429.9" r="1.5" fill="#2E8430"/><circle cx="855.0" cy="426.5" r="1.6" fill="#6DBA55"/><circle cx="868.9" cy="435.5" r="7.7" fill="#3A9A36"/><circle cx="870.2" cy="434.8" r="1.1" fill="#5AAE48"/><circle cx="870.8" cy="431.3" r="1.2" fill="#2E8430"/><circle cx="869.9" cy="436.1" r="1.3" fill="#5AAE48"/><circle cx="870.1" cy="436.2" r="1.0" fill="#5AAE48"/><circle cx="871.0" cy="436.5" r="1.8" fill="#2E8430"/><circle cx="882.9" cy="427.3" r="7.7" fill="#3A9A36"/><circle cx="882.9" cy="429.4" r="1.6" fill="#6DBA55"/><circle cx="877.9" cy="425.2" r="1.3" fill="#5AAE48"/><circle cx="879.8" cy="429.3" r="1.7" fill="#6DBA55"/><circle cx="879.7" cy="428.9" r="1.0" fill="#5AAE48"/><circle cx="885.5" cy="424.2" r="1.1" fill="#5AAE48"/><circle cx="840.1" cy="442.1" r="7.7" fill="#3A9A36"/><circle cx="838.0" cy="443.0" r="1.4" fill="#2E8430"/><circle cx="836.4" cy="440.9" r="1.3" fill="#6DBA55"/><circle cx="841.1" cy="439.0" r="1.0" fill="#6DBA55"/><circle cx="838.2" cy="446.4" r="1.1" fill="#2E8430"/><circle cx="838.1" cy="444.1" r="1.7" fill="#2E8430"/><circle cx="813.0" cy="397.7" r="7.7" fill="#3A9A36"/><circle cx="809.9" cy="395.6" r="1.0" fill="#2E8430"/><circle cx="815.0" cy="396.9" r="1.6" fill="#5AAE48"/><circle cx="813.5" cy="396.2" r="1.3" fill="#6DBA55"/><circle cx="814.3" cy="394.4" r="0.9" fill="#5AAE48"/><circle cx="814.0" cy="399.6" r="1.4" fill="#6DBA55"/><circle cx="818.9" cy="381.5" r="7.7" fill="#3A9A36"/><circle cx="817.5" cy="382.6" r="1.5" fill="#2E8430"/><circle cx="818.1" cy="380.3" r="1.3" fill="#5AAE48"/><circle cx="816.1" cy="381.0" r="1.7" fill="#2E8430"/><circle cx="816.6" cy="383.3" r="1.2" fill="#5AAE48"/><circle cx="813.9" cy="379.5" r="1.1" fill="#5AAE48"/><circle cx="822.9" cy="433.5" r="7.7" fill="#3A9A36"/><circle cx="819.9" cy="432.1" r="1.0" fill="#6DBA55"/><circle cx="827.3" cy="432.5" r="1.8" fill="#2E8430"/><circle cx="824.2" cy="433.8" r="1.5" fill="#6DBA55"/><circle cx="821.7" cy="428.4" r="1.6" fill="#2E8430"/><circle cx="825.3" cy="431.6" r="1.1" fill="#5AAE48"/><circle cx="888.9" cy="393.5" r="7.7" fill="#3A9A36"/><circle cx="885.8" cy="396.9" r="1.6" fill="#5AAE48"/><circle cx="888.0" cy="392.0" r="1.0" fill="#5AAE48"/><circle cx="885.8" cy="392.9" r="1.7" fill="#5AAE48"/><circle cx="891.3" cy="397.0" r="1.0" fill="#2E8430"/><circle cx="891.2" cy="393.1" r="0.9" fill="#6DBA55"/></g>
<circle cx="850.9" cy="407.5" r="44.2" fill="none" stroke="#7F7F7F" stroke-width="6.6"/>
<circle cx="603.7" cy="514.5" r="44.2" fill="#FFFFFF"/>
<g><path d="M580.0,510.5 Q574.0,514.0 575.0,524.5" fill="none" stroke="#C39A2C" stroke-width="4" stroke-linecap="round"/><path d="M580.0,510.5 Q574.0,514.0 575.0,524.5" fill="none" stroke="#4A3A10" stroke-width="4" stroke-dasharray="0.8 2.2"/><path d="M586.0,508.0 l-5,-4 l-1,-3 M591.0,508.0 l5,-4 l1,-3 M585.5,514.0 l-6,2 M591.5,514.0 l6,2 M586.0,521.0 l-5,7 M591.0,521.0 l5,7 M587.0,502.5 l-3,-6 M590.0,502.5 l3,-6" stroke="#111" stroke-width="0.9" fill="none"/><path d="M582.5,512.0 C582.0,522.0 584.0,527.0 588.5,527.5 C593.0,527.0 595.0,522.0 594.5,512.0 Z" fill="#151515"/><rect x="582.5" y="510.0" width="12" height="4" rx="2" fill="#151515"/><ellipse cx="588.5" cy="507.5" rx="3.6" ry="3" fill="#1A1A1A"/><circle cx="588.5" cy="504.0" r="2" fill="#1A1A1A"/><ellipse cx="609.0" cy="520.0" rx="5" ry="10" fill="#7C7C7C" stroke="#4A4A4A" stroke-width="0.7" transform="rotate(12 609.0 520.0)"/><ellipse cx="619.0" cy="520.0" rx="5" ry="10" fill="#7C7C7C" stroke="#4A4A4A" stroke-width="0.7" transform="rotate(-12 619.0 520.0)"/><path d="M612.0,509.0 l-6,-2 M615.0,509.0 l6,-2 M612.0,505.0 l-5,-3 M615.0,505.0 l5,-3" stroke="#333" stroke-width="0.8"/><ellipse cx="613.6" cy="516.0" rx="2.6" ry="9" fill="#3A3A3A"/><circle cx="613.6" cy="505.0" r="3" fill="#2E2E3A"/><ellipse cx="631.2" cy="516.6" rx="4.2" ry="12.5" fill="#C9A164"/><line x1="627.5" y1="507.0" x2="634.5" y2="507.0" stroke="#5A4020" stroke-width="0.7"/><line x1="627.5" y1="509.6" x2="634.5" y2="509.6" stroke="#5A4020" stroke-width="0.7"/><line x1="627.5" y1="512.2" x2="634.5" y2="512.2" stroke="#5A4020" stroke-width="0.7"/><line x1="627.5" y1="514.8" x2="634.5" y2="514.8" stroke="#5A4020" stroke-width="0.7"/><line x1="627.5" y1="517.4" x2="634.5" y2="517.4" stroke="#5A4020" stroke-width="0.7"/><line x1="627.5" y1="520.0" x2="634.5" y2="520.0" stroke="#5A4020" stroke-width="0.7"/><line x1="627.5" y1="522.6" x2="634.5" y2="522.6" stroke="#5A4020" stroke-width="0.7"/><line x1="627.5" y1="525.2" x2="634.5" y2="525.2" stroke="#5A4020" stroke-width="0.7"/><ellipse cx="631.2" cy="516.6" rx="4.2" ry="12.5" fill="none" stroke="#6A4A20" stroke-width="0.7"/></g>
<circle cx="603.7" cy="514.5" r="44.2" fill="none" stroke="#7F7F7F" stroke-width="6.6"/>
<circle cx="757.3" cy="512.7" r="44.2" fill="#FFFFFF"/>
<g clip-path="url(#c_myco)"><rect x="712.3" y="467.7" width="90" height="90" fill="#000000"/><path d="M732.8,479.7 Q731.3,486.7 735.3,490.7 T737.3,502.7" stroke="#FFFFFF" stroke-width="1.4" fill="none" stroke-linecap="round"/><path d="M735.3,494.7 q3,-2 6,0 q2,3 5,1" stroke="#FFFFFF" stroke-width="1.0" fill="none" stroke-linecap="round"/><path d="M759.3,500.7 q-3,-4 1,-7 q5,-2 6,3 q0,4 -4,4 q-3,-1 -1,-3" stroke="#FFFFFF" stroke-width="1.2" fill="none" stroke-linecap="round"/><path d="M754.3,492.7 q4,-3 9,-1" stroke="#FFFFFF" stroke-width="1.0" fill="none" stroke-linecap="round"/><path d="M777.3,517.5 L791.8,504.3" stroke="#FFFFFF" stroke-width="3.0" fill="none" stroke-linecap="round"/><path d="M776.3,475.7 q-2,6 2,12" stroke="#FFFFFF" stroke-width="1.6" fill="none" stroke-linecap="round"/><path d="M765.3,540.7 q12,-8 27,-3" stroke="#FFFFFF" stroke-width="0.6" fill="none" stroke-linecap="round"/><path d="M727.3,510.7 q6,-2 10,3" stroke="#FFFFFF" stroke-width="0.8" fill="none" stroke-linecap="round"/><path d="M752.3,516.7 q-2,5 1,9" stroke="#FFFFFF" stroke-width="1.3" fill="none" stroke-linecap="round"/><path d="M737.3,515.7 q4,2 6,6" stroke="#FFFFFF" stroke-width="1.2" fill="none" stroke-linecap="round"/><path d="M783.3,492.7 q3,-3 6,-2" stroke="#FFFFFF" stroke-width="0.9" fill="none" stroke-linecap="round"/><path d="M745.3,534.7 q-5,4 -8,10" stroke="#FFFFFF" stroke-width="0.8" fill="none" stroke-linecap="round"/><circle cx="737.8" cy="517.5" r="1.6" fill="#FFFFFF"/><circle cx="750.9" cy="524.0" r="1.8" fill="#FFFFFF"/><circle cx="760.8" cy="525.7" r="1.5" fill="#FFFFFF"/><circle cx="737.8" cy="525.7" r="1.4" fill="#FFFFFF"/><circle cx="718.3" cy="519.1" r="1.8" fill="#FFFFFF"/><circle cx="726.3" cy="517.3" r="1.0" fill="#FFFFFF"/><circle cx="749.3" cy="550.3" r="1.2" fill="#FFFFFF"/><circle cx="762.5" cy="552.0" r="1.0" fill="#FFFFFF"/><circle cx="755.3" cy="482.7" r="1.2" fill="#FFFFFF"/><circle cx="769.3" cy="487.7" r="1.0" fill="#FFFFFF"/><circle cx="784.3" cy="522.7" r="1.1" fill="#FFFFFF"/><circle cx="743.3" cy="508.7" r="1.0" fill="#FFFFFF"/><circle cx="765.3" cy="514.7" r="0.9" fill="#FFFFFF"/><circle cx="731.3" cy="534.7" r="0.9" fill="#FFFFFF"/><circle cx="771.3" cy="530.7" r="1.1" fill="#FFFFFF"/><circle cx="787.3" cy="510.7" r="1.3" fill="#FFFFFF"/><circle cx="749.3" cy="475.6" r="0.5" fill="#FFFFFF"/><circle cx="748.2" cy="475.7" r="0.7" fill="#FFFFFF"/><circle cx="747.8" cy="474.7" r="0.8" fill="#FFFFFF"/><circle cx="736.7" cy="493.9" r="0.3" fill="#FFFFFF"/><circle cx="726.9" cy="528.6" r="0.6" fill="#FFFFFF"/><circle cx="757.6" cy="493.4" r="0.4" fill="#FFFFFF"/><circle cx="793.0" cy="503.0" r="0.8" fill="#FFFFFF"/><circle cx="786.7" cy="484.2" r="0.7" fill="#FFFFFF"/><circle cx="720.9" cy="528.7" r="0.7" fill="#FFFFFF"/><circle cx="772.2" cy="516.5" r="0.7" fill="#FFFFFF"/><circle cx="731.0" cy="515.7" r="0.4" fill="#FFFFFF"/><circle cx="749.6" cy="489.2" r="0.7" fill="#FFFFFF"/><circle cx="762.9" cy="533.9" r="0.6" fill="#FFFFFF"/><circle cx="764.8" cy="544.8" r="0.7" fill="#FFFFFF"/><circle cx="762.4" cy="499.5" r="0.8" fill="#FFFFFF"/><circle cx="747.5" cy="482.5" r="0.5" fill="#FFFFFF"/><circle cx="773.0" cy="545.5" r="0.6" fill="#FFFFFF"/><circle cx="769.7" cy="545.9" r="0.7" fill="#FFFFFF"/><circle cx="753.2" cy="509.8" r="0.7" fill="#FFFFFF"/><circle cx="743.4" cy="483.0" r="0.6" fill="#FFFFFF"/><circle cx="780.8" cy="493.6" r="0.6" fill="#FFFFFF"/><circle cx="787.1" cy="484.4" r="0.4" fill="#FFFFFF"/><circle cx="756.8" cy="500.1" r="0.8" fill="#FFFFFF"/><circle cx="795.0" cy="508.6" r="0.7" fill="#FFFFFF"/><circle cx="767.3" cy="487.9" r="0.8" fill="#FFFFFF"/><circle cx="732.6" cy="480.5" r="0.5" fill="#FFFFFF"/><circle cx="720.7" cy="511.2" r="0.5" fill="#FFFFFF"/><circle cx="791.8" cy="506.1" r="0.7" fill="#FFFFFF"/><circle cx="778.6" cy="519.3" r="0.4" fill="#FFFFFF"/><circle cx="742.5" cy="512.1" r="0.5" fill="#FFFFFF"/><circle cx="768.4" cy="513.1" r="0.5" fill="#FFFFFF"/><circle cx="765.4" cy="550.4" r="0.4" fill="#FFFFFF"/><circle cx="744.8" cy="475.6" r="0.3" fill="#FFFFFF"/><circle cx="723.5" cy="506.8" r="0.7" fill="#FFFFFF"/><circle cx="772.3" cy="548.1" r="0.7" fill="#FFFFFF"/><circle cx="763.8" cy="518.8" r="0.3" fill="#FFFFFF"/><circle cx="748.4" cy="494.6" r="0.6" fill="#FFFFFF"/><circle cx="724.3" cy="515.9" r="0.5" fill="#FFFFFF"/><circle cx="756.7" cy="505.4" r="0.4" fill="#FFFFFF"/><circle cx="774.9" cy="535.5" r="0.6" fill="#FFFFFF"/></g>
<circle cx="757.3" cy="512.7" r="44.2" fill="none" stroke="#7F7F7F" stroke-width="6.6"/>
<polyline points="662.0,322.0 662.0,301.4" fill="none" stroke="#7A7A7A" stroke-width="1.2"/>
<circle cx="662.0" cy="301.4" r="1.8" fill="#FFFFFF" stroke="#7A7A7A" stroke-width="1.1"/>
<polyline points="662.0,315.0 654.0,308.4" fill="none" stroke="#7A7A7A" stroke-width="1.2"/>
<circle cx="654.0" cy="308.4" r="1.8" fill="#FFFFFF" stroke="#7A7A7A" stroke-width="1.1"/>
<polyline points="667.3,321.0 671.5,315.0 671.5,311.0" fill="none" stroke="#7A7A7A" stroke-width="1.2"/>
<circle cx="671.5" cy="311.0" r="1.8" fill="#FFFFFF" stroke="#7A7A7A" stroke-width="1.1"/>
<polyline points="691.3,313.8 691.3,321.0" fill="none" stroke="#3F3F3F" stroke-width="1.2"/>
<polyline points="683.6,319.6 683.6,322.0" fill="none" stroke="#3F3F3F" stroke-width="1.2"/>
<circle cx="683.6" cy="319.6" r="2" fill="#3F3F3F"/>
<polyline points="707.4,316.0 707.4,322.0" fill="none" stroke="#3F3F3F" stroke-width="1.2"/>
<circle cx="707.4" cy="316.0" r="2" fill="#3F3F3F"/>
<polyline points="719.2,297.5 719.2,329.0" fill="none" stroke="#7A7A7A" stroke-width="1.2"/>
<circle cx="719.2" cy="297.5" r="1.8" fill="#FFFFFF" stroke="#7A7A7A" stroke-width="1.1"/>
<polyline points="719.2,317.3 733.7,317.3 735.5,313.3" fill="none" stroke="#7A7A7A" stroke-width="1.2"/>
<circle cx="735.5" cy="313.3" r="1.8" fill="#FFFFFF" stroke="#7A7A7A" stroke-width="1.1"/>
<polyline points="719.2,312.6 712.7,308.4" fill="none" stroke="#7A7A7A" stroke-width="1.2"/>
<circle cx="712.7" cy="308.4" r="1.8" fill="#FFFFFF" stroke="#7A7A7A" stroke-width="1.1"/>
<polyline points="729.0,328.9 729.0,335.9 739.5,335.9" fill="none" stroke="#7A7A7A" stroke-width="1.2"/>
<circle cx="729.0" cy="328.9" r="1.8" fill="#FFFFFF" stroke="#7A7A7A" stroke-width="1.1"/>
<circle cx="739.5" cy="335.9" r="1.8" fill="#FFFFFF" stroke="#7A7A7A" stroke-width="1.1"/>
<polyline points="736.0,349.0 757.0,330.0 771.0,330.0" fill="none" stroke="#3F3F3F" stroke-width="1.2"/>
<polyline points="740.0,359.0 751.1,347.5 769.8,347.5" fill="none" stroke="#7A7A7A" stroke-width="1.2"/>
<circle cx="769.8" cy="347.5" r="1.8" fill="#FFFFFF" stroke="#7A7A7A" stroke-width="1.1"/>
<polyline points="741.0,373.0 752.3,364.3 773.2,364.3" fill="none" stroke="#3F3F3F" stroke-width="1.2"/>
<polyline points="740.7,377.8 745.3,383.6 759.3,383.6" fill="none" stroke="#3F3F3F" stroke-width="1.2"/>
<circle cx="759.3" cy="383.6" r="2" fill="#3F3F3F"/>
<polyline points="743.0,365.0 743.0,365.0" fill="none" stroke="#7A7A7A" stroke-width="1.2"/>
<circle cx="743.0" cy="365.0" r="1.8" fill="#FFFFFF" stroke="#7A7A7A" stroke-width="1.1"/>
<polyline points="731.3,391.8 739.0,393.0" fill="none" stroke="#7A7A7A" stroke-width="1.2"/>
<circle cx="739.0" cy="393.0" r="1.8" fill="#FFFFFF" stroke="#7A7A7A" stroke-width="1.1"/>
<polyline points="722.0,396.4 731.8,396.4" fill="none" stroke="#7A7A7A" stroke-width="1.2"/>
<circle cx="731.8" cy="396.4" r="1.8" fill="#FFFFFF" stroke="#7A7A7A" stroke-width="1.1"/>
<polyline points="717.4,403.0 717.4,405.7" fill="none" stroke="#7A7A7A" stroke-width="1.2"/>
<circle cx="717.4" cy="405.7" r="1.8" fill="#FFFFFF" stroke="#7A7A7A" stroke-width="1.1"/>
<polyline points="722.0,399.9 740.7,404.6 740.7,416.2" fill="none" stroke="#7A7A7A" stroke-width="1.2"/>
<circle cx="740.7" cy="416.2" r="1.8" fill="#FFFFFF" stroke="#7A7A7A" stroke-width="1.1"/>
<polyline points="740.7,404.6 767.4,422.0" fill="none" stroke="#7A7A7A" stroke-width="1.2"/>
<circle cx="767.4" cy="422.0" r="1.8" fill="#FFFFFF" stroke="#7A7A7A" stroke-width="1.1"/>
<polyline points="705.7,405.0 705.7,412.7 698.7,419.7" fill="none" stroke="#3F3F3F" stroke-width="1.2"/>
<circle cx="698.7" cy="419.7" r="2" fill="#3F3F3F"/>
<polyline points="705.7,412.7 722.0,429.0" fill="none" stroke="#3F3F3F" stroke-width="1.2"/>
<polyline points="691.3,408.0 691.3,426.2" fill="none" stroke="#7A7A7A" stroke-width="1.2"/>
<circle cx="691.3" cy="426.2" r="1.8" fill="#FFFFFF" stroke="#7A7A7A" stroke-width="1.1"/>
<polyline points="680.1,409.0 680.1,441.8" fill="none" stroke="#3F3F3F" stroke-width="1.2"/>
<circle cx="680.1" cy="441.8" r="2" fill="#3F3F3F"/>
<polyline points="675.5,410.0 666.1,421.0 661.5,425.5" fill="none" stroke="#3F3F3F" stroke-width="1.2"/>
<polyline points="638.2,417.8 668.5,417.8" fill="none" stroke="#3F3F3F" stroke-width="1.2"/>
<circle cx="638.2" cy="417.8" r="2" fill="#3F3F3F"/>
<polyline points="633.6,410.4 642.9,402.2 656.8,402.2" fill="none" stroke="#7A7A7A" stroke-width="1.2"/>
<circle cx="633.6" cy="410.4" r="1.8" fill="#FFFFFF" stroke="#7A7A7A" stroke-width="1.1"/>
<polyline points="614.9,399.4 640.0,399.4" fill="none" stroke="#7A7A7A" stroke-width="1.2"/>
<circle cx="614.9" cy="399.4" r="1.8" fill="#FFFFFF" stroke="#7A7A7A" stroke-width="1.1"/>
<polyline points="601.0,383.6 612.6,383.6 624.0,372.5" fill="none" stroke="#3F3F3F" stroke-width="1.2"/>
<polyline points="607.9,358.0 624.0,372.0" fill="none" stroke="#3F3F3F" stroke-width="1.2"/>
<circle cx="607.9" cy="358.0" r="1.8" fill="#FFFFFF" stroke="#3F3F3F" stroke-width="1.1"/>
<polyline points="601.4,342.4 605.6,345.2 628.0,345.2" fill="none" stroke="#3F3F3F" stroke-width="1.2"/>
<polyline points="620.7,328.9 628.9,335.9 640.0,335.9" fill="none" stroke="#7A7A7A" stroke-width="1.2"/>
<circle cx="620.7" cy="328.9" r="1.8" fill="#FFFFFF" stroke="#7A7A7A" stroke-width="1.1"/>
<ellipse cx="681.9" cy="364.8" rx="60" ry="44" fill="url(#gold)"/>
<text id="vort" x="192.62" y="58.9" font-size="33.0" font-weight="normal" textLength="111.16" lengthAdjust="spacingAndGlyphs">Vorteile</text>
<text id="nutz" x="1051.02" y="58.2" font-size="33.0" font-weight="normal" textLength="158.96" lengthAdjust="spacingAndGlyphs">Nutzungen</text>
<text id="s1a" x="96.32" y="131.2" font-size="23.0" font-weight="bold" textLength="117.06" lengthAdjust="spacingAndGlyphs">geringerer</text>
<text id="s1b" x="96.32" y="164.8" font-size="23.0" font-weight="bold" textLength="116.46" lengthAdjust="spacingAndGlyphs">Verbrauch</text>
<text id="s1c" x="96.72" y="198.3" font-size="23.0" font-weight="bold" textLength="193.46" lengthAdjust="spacingAndGlyphs">von Agrarflächen</text>
<text id="s2a" x="42.22" y="364.0" font-size="23.0" font-weight="bold" textLength="107.56" lengthAdjust="spacingAndGlyphs">geringere</text>
<text id="s2b" x="42.22" y="396.6" font-size="23.0" font-weight="bold" textLength="181.56" lengthAdjust="spacingAndGlyphs">klimaschädliche</text>
<text id="s2c" x="42.22" y="429.5" font-size="23.0" font-weight="bold" textLength="130.26" lengthAdjust="spacingAndGlyphs">Emissionen</text>
<text id="s3a" x="162.42" y="600.5" font-size="23.0" font-weight="bold" textLength="118.66" lengthAdjust="spacingAndGlyphs">Erzeugung</text>
<text id="s3b" x="163.42" y="633.0" font-size="23.0" font-weight="bold" textLength="133.36" lengthAdjust="spacingAndGlyphs">unabhängig</text>
<text id="s3c" x="164.42" y="666.0" font-size="23.0" font-weight="bold" textLength="109.86" lengthAdjust="spacingAndGlyphs">von Klima</text>
<text id="s4a" x="1089.42" y="130.5" font-size="23.0" font-weight="bold" textLength="116.46" lengthAdjust="spacingAndGlyphs">Ersatz von</text>
<text id="s4b" x="1089.42" y="164.8" font-size="23.0" font-weight="bold" textLength="184.06" lengthAdjust="spacingAndGlyphs">konventionellen</text>
<text id="s4c" x="1089.42" y="198.0" font-size="23.0" font-weight="bold" textLength="249.16" lengthAdjust="spacingAndGlyphs">Futtermittelproteinen</text>
<text id="s5a" x="1149.62" y="363.0" font-size="23.0" font-weight="bold" textLength="205.56" lengthAdjust="spacingAndGlyphs">Ersatz von Protein</text>
<text id="s5b" x="1150.62" y="395.3" font-size="23.0" font-weight="bold" textLength="156.36" lengthAdjust="spacingAndGlyphs">aus tierischen</text>
<text id="s5c" x="1149.62" y="428.0" font-size="23.0" font-weight="bold" textLength="90.96" lengthAdjust="spacingAndGlyphs">Quellen</text>
<text id="s6a" x="1082.62" y="600.5" font-size="23.0" font-weight="bold" textLength="184.46" lengthAdjust="spacingAndGlyphs">Erweiterung des</text>
<text id="s6b" x="1082.62" y="632.2" font-size="23.0" font-weight="bold" textLength="251.06" lengthAdjust="spacingAndGlyphs">Lebensmittelangebots</text>
<text id="alt" x="633.13" y="357.5" font-size="14.5" font-weight="normal" textLength="96.64" lengthAdjust="spacingAndGlyphs">ALTERNATIVE</text>
<text id="pro" x="632.80" y="384.1" font-size="20.0" font-weight="bold" textLength="96.40" lengthAdjust="spacingAndGlyphs">PROTEINE</text>
<text id="neb" x="619.34" y="124.7" font-size="21.0" font-weight="bold" textLength="132.72" lengthAdjust="spacingAndGlyphs">Nebenströme</text>
<text id="nebz" x="640.13" y="148.5" font-size="14.5" font-weight="bold" textLength="97.44" lengthAdjust="spacingAndGlyphs">(z. B. Trester)</text>
<text id="inv" x="339.44" y="274.7" font-size="21.0" font-weight="bold" textLength="143.92" lengthAdjust="spacingAndGlyphs"><tspan font-style="italic">In-vitro-</tspan>Fleisch</text>
<text id="was" x="879.04" y="274.7" font-size="21.0" font-weight="bold" textLength="128.32" lengthAdjust="spacingAndGlyphs">Wasserlinsen</text>
<text id="mak" x="333.94" y="417.7" font-size="21.0" font-weight="bold" textLength="116.42" lengthAdjust="spacingAndGlyphs">Makroalgen</text>
<text id="makz" x="381.13" y="440.4" font-size="14.5" font-weight="bold" textLength="77.04" lengthAdjust="spacingAndGlyphs">(z. B. Kelp)</text>
<text id="mik" x="907.94" y="418.5" font-size="21.0" font-weight="bold" textLength="112.02" lengthAdjust="spacingAndGlyphs">Mikroalgen</text>
<text id="mikz" x="897.83" y="442.4" font-size="14.5" font-weight="bold" textLength="110.04" lengthAdjust="spacingAndGlyphs">(z. B. Chlorella,</text>
<text id="mikz2" x="897.83" y="463.4" font-size="14.5" font-weight="bold" textLength="72.24" lengthAdjust="spacingAndGlyphs">Spirulina)</text>
<text id="ins" x="462.14" y="553.6" font-size="21.0" font-weight="bold" textLength="84.22" lengthAdjust="spacingAndGlyphs">Insekten</text>
<text id="insz" x="463.13" y="577.7" font-size="14.5" font-weight="bold" textLength="126.34" lengthAdjust="spacingAndGlyphs">(z. B. Mehlwurm,</text>
<text id="insz2" x="463.13" y="598.5" font-size="14.5" font-weight="bold" textLength="110.64" lengthAdjust="spacingAndGlyphs">Soldatenfliege)</text>
<text id="myc" x="799.94" y="558.9" font-size="21.0" font-weight="bold" textLength="125.82" lengthAdjust="spacingAndGlyphs">Mycoprotein</text>
<text id="mycz" x="766.33" y="580.4" font-size="14.5" font-weight="bold" textLength="191.04" lengthAdjust="spacingAndGlyphs">(z. B. Fusarium-Varianten)</text>
</svg>
</body></html>
